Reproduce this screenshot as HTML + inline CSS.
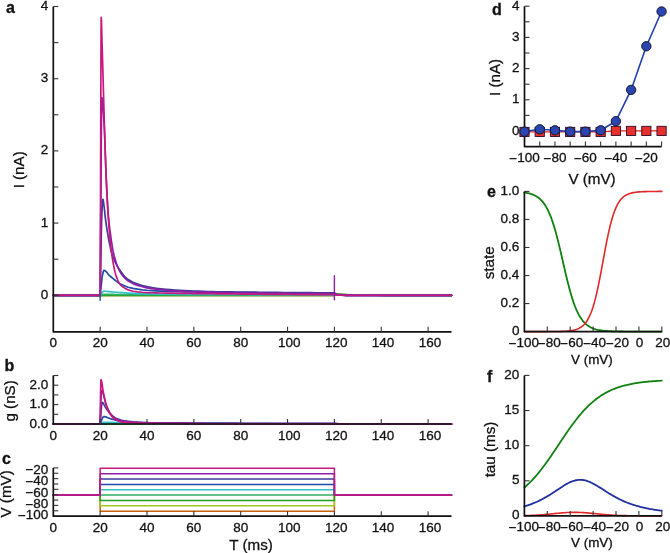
<!DOCTYPE html>
<html><head><meta charset="utf-8"><style>
html,body{margin:0;padding:0;background:#fff;}
svg{display:block;will-change:transform;}
text{font-family:"Liberation Sans",sans-serif;fill:#111;stroke:#111;stroke-width:0.3px;}
</style></head><body>
<svg width="670" height="553" viewBox="0 0 670 553">
<polyline points="53.30,295.30 100.15,295.30 100.15,295.30 100.27,295.30 100.38,295.30 100.50,295.30 100.62,295.30 100.74,295.30 100.85,295.30 100.97,295.30 101.09,295.30 101.20,295.30 101.32,295.30 101.44,295.30 101.56,295.30 101.67,295.30 101.79,295.30 101.91,295.30 102.02,295.30 102.14,295.30 102.26,295.30 102.38,295.30 102.49,295.30 102.61,295.30 102.73,295.30 102.84,295.30 102.96,295.30 103.08,295.30 103.20,295.30 103.31,295.30 103.43,295.30 103.55,295.30 103.66,295.30 103.78,295.30 103.90,295.30 104.02,295.30 104.13,295.30 104.25,295.30 104.37,295.30 104.48,295.30 104.60,295.30 104.72,295.30 104.83,295.30 105.30,295.30 105.77,295.30 106.24,295.30 106.71,295.30 107.18,295.30 107.65,295.30 108.11,295.30 108.58,295.30 109.05,295.30 109.52,295.30 109.99,295.30 110.46,295.30 110.93,295.30 111.39,295.30 111.86,295.30 112.33,295.30 112.80,295.30 113.27,295.30 113.74,295.30 114.20,295.30 114.67,295.30 115.14,295.30 115.61,295.30 116.08,295.30 116.55,295.30 117.02,295.30 117.48,295.30 117.95,295.30 118.42,295.30 118.89,295.30 119.36,295.30 119.83,295.30 120.30,295.30 120.76,295.30 121.23,295.30 121.70,295.30 122.17,295.30 122.64,295.30 123.11,295.30 123.57,295.30 124.04,295.30 124.51,295.30 124.98,295.30 125.45,295.30 125.92,295.30 126.39,295.30 126.85,295.30 127.32,295.30 127.79,295.30 128.26,295.30 132.94,295.30 137.63,295.30 142.31,295.30 147.00,295.30 151.69,295.30 156.37,295.30 161.06,295.30 165.74,295.30 170.42,295.30 175.11,295.30 179.79,295.30 184.48,295.30 189.16,295.30 193.85,295.30 198.53,295.30 203.22,295.30 207.90,295.30 212.59,295.30 217.27,295.30 221.96,295.30 226.64,295.30 231.33,295.30 236.01,295.30 240.70,295.30 245.38,295.30 250.07,295.30 254.75,295.30 259.44,295.30 264.12,295.30 268.81,295.30 273.50,295.30 278.18,295.30 282.86,295.30 287.55,295.30 292.23,295.30 296.92,295.30 301.60,295.30 306.29,295.30 310.97,295.30 315.66,295.30 320.34,295.30 325.03,295.30 329.71,295.30 334.40,295.30 334.40,295.30 336.74,294.21 339.08,294.34 341.43,294.51 343.77,294.65 346.11,294.77 348.45,294.87 350.80,294.94 353.14,295.01 355.48,295.06 357.82,295.10 360.17,295.14 362.51,295.17 364.85,295.19 367.19,295.21 369.54,295.23 371.88,295.24 374.22,295.25 376.56,295.26 378.91,295.27 381.25,295.27 383.59,295.28 385.94,295.28 388.28,295.29 390.62,295.29 392.96,295.29 395.31,295.29 397.65,295.29 399.99,295.29 402.33,295.30 404.67,295.30 407.02,295.30 409.36,295.30 411.70,295.30 414.04,295.30 416.39,295.30 418.73,295.30 421.07,295.30 423.41,295.30 425.76,295.30 428.10,295.30 430.44,295.30 432.78,295.30 435.13,295.30 437.47,295.30 439.81,295.30 442.15,295.30 444.50,295.30 446.84,295.30 449.18,295.30 451.52,295.30 451.52,295.30" fill="none" stroke="#c86010" stroke-width="1.7" stroke-linejoin="round" stroke-linecap="round" />
<polyline points="53.30,295.30 100.15,295.30 100.15,295.30 100.27,295.30 100.38,295.30 100.50,295.30 100.62,295.30 100.74,295.30 100.85,295.30 100.97,295.30 101.09,295.30 101.20,295.30 101.32,295.30 101.44,295.30 101.56,295.30 101.67,295.30 101.79,295.30 101.91,295.30 102.02,295.30 102.14,295.30 102.26,295.30 102.38,295.30 102.49,295.30 102.61,295.30 102.73,295.30 102.84,295.30 102.96,295.30 103.08,295.30 103.20,295.30 103.31,295.30 103.43,295.30 103.55,295.30 103.66,295.30 103.78,295.30 103.90,295.30 104.02,295.30 104.13,295.30 104.25,295.30 104.37,295.30 104.48,295.30 104.60,295.30 104.72,295.30 104.83,295.30 105.30,295.30 105.77,295.30 106.24,295.30 106.71,295.30 107.18,295.30 107.65,295.30 108.11,295.30 108.58,295.30 109.05,295.30 109.52,295.30 109.99,295.30 110.46,295.30 110.93,295.30 111.39,295.30 111.86,295.30 112.33,295.30 112.80,295.30 113.27,295.30 113.74,295.30 114.20,295.30 114.67,295.30 115.14,295.30 115.61,295.30 116.08,295.30 116.55,295.30 117.02,295.30 117.48,295.30 117.95,295.30 118.42,295.30 118.89,295.30 119.36,295.30 119.83,295.30 120.30,295.30 120.76,295.30 121.23,295.30 121.70,295.30 122.17,295.30 122.64,295.30 123.11,295.30 123.57,295.30 124.04,295.30 124.51,295.30 124.98,295.30 125.45,295.30 125.92,295.30 126.39,295.30 126.85,295.30 127.32,295.30 127.79,295.30 128.26,295.30 132.94,295.30 137.63,295.30 142.31,295.30 147.00,295.30 151.69,295.30 156.37,295.30 161.06,295.30 165.74,295.30 170.42,295.30 175.11,295.30 179.79,295.30 184.48,295.30 189.16,295.30 193.85,295.30 198.53,295.30 203.22,295.30 207.90,295.30 212.59,295.30 217.27,295.30 221.96,295.30 226.64,295.30 231.33,295.30 236.01,295.30 240.70,295.30 245.38,295.30 250.07,295.30 254.75,295.30 259.44,295.30 264.12,295.30 268.81,295.30 273.50,295.30 278.18,295.30 282.86,295.30 287.55,295.30 292.23,295.30 296.92,295.30 301.60,295.30 306.29,295.30 310.97,295.30 315.66,295.30 320.34,295.30 325.03,295.30 329.71,295.30 334.40,295.30 334.40,295.30 336.74,293.94 339.08,294.10 341.43,294.31 343.77,294.49 346.11,294.64 348.45,294.76 350.80,294.85 353.14,294.94 355.48,295.00 357.82,295.06 360.17,295.10 362.51,295.14 364.85,295.17 367.19,295.19 369.54,295.21 371.88,295.23 374.22,295.24 376.56,295.25 378.91,295.26 381.25,295.27 383.59,295.27 385.94,295.28 388.28,295.28 390.62,295.29 392.96,295.29 395.31,295.29 397.65,295.29 399.99,295.29 402.33,295.29 404.67,295.30 407.02,295.30 409.36,295.30 411.70,295.30 414.04,295.30 416.39,295.30 418.73,295.30 421.07,295.30 423.41,295.30 425.76,295.30 428.10,295.30 430.44,295.30 432.78,295.30 435.13,295.30 437.47,295.30 439.81,295.30 442.15,295.30 444.50,295.30 446.84,295.30 449.18,295.30 451.52,295.30 451.52,295.30" fill="none" stroke="#a0c820" stroke-width="1.7" stroke-linejoin="round" stroke-linecap="round" />
<polyline points="53.30,295.30 100.15,295.30 100.15,295.30 100.27,295.30 100.38,295.30 100.50,295.30 100.62,295.30 100.74,295.30 100.85,295.30 100.97,295.30 101.09,295.30 101.20,295.30 101.32,295.30 101.44,295.30 101.56,295.30 101.67,295.30 101.79,295.30 101.91,295.30 102.02,295.30 102.14,295.30 102.26,295.30 102.38,295.30 102.49,295.30 102.61,295.30 102.73,295.30 102.84,295.30 102.96,295.30 103.08,295.30 103.20,295.30 103.31,295.30 103.43,295.30 103.55,295.30 103.66,295.30 103.78,295.30 103.90,295.30 104.02,295.30 104.13,295.30 104.25,295.30 104.37,295.30 104.48,295.30 104.60,295.30 104.72,295.30 104.83,295.30 105.30,295.30 105.77,295.30 106.24,295.30 106.71,295.30 107.18,295.30 107.65,295.30 108.11,295.30 108.58,295.30 109.05,295.30 109.52,295.30 109.99,295.30 110.46,295.30 110.93,295.30 111.39,295.30 111.86,295.30 112.33,295.30 112.80,295.30 113.27,295.30 113.74,295.30 114.20,295.30 114.67,295.30 115.14,295.30 115.61,295.30 116.08,295.30 116.55,295.30 117.02,295.30 117.48,295.30 117.95,295.30 118.42,295.30 118.89,295.30 119.36,295.30 119.83,295.30 120.30,295.30 120.76,295.30 121.23,295.30 121.70,295.30 122.17,295.30 122.64,295.30 123.11,295.30 123.57,295.30 124.04,295.30 124.51,295.30 124.98,295.30 125.45,295.30 125.92,295.30 126.39,295.30 126.85,295.30 127.32,295.30 127.79,295.30 128.26,295.30 132.94,295.30 137.63,295.30 142.31,295.30 147.00,295.30 151.69,295.30 156.37,295.30 161.06,295.30 165.74,295.30 170.42,295.30 175.11,295.30 179.79,295.30 184.48,295.30 189.16,295.30 193.85,295.30 198.53,295.30 203.22,295.30 207.90,295.30 212.59,295.30 217.27,295.30 221.96,295.30 226.64,295.30 231.33,295.30 236.01,295.30 240.70,295.30 245.38,295.30 250.07,295.30 254.75,295.30 259.44,295.30 264.12,295.30 268.81,295.30 273.50,295.30 278.18,295.30 282.86,295.30 287.55,295.30 292.23,295.30 296.92,295.30 301.60,295.30 306.29,295.30 310.97,295.30 315.66,295.30 320.34,295.30 325.03,295.30 329.71,295.30 334.40,295.30 334.40,295.30 336.74,294.11 339.08,294.24 341.43,294.43 343.77,294.59 346.11,294.72 348.45,294.82 350.80,294.91 353.14,294.98 355.48,295.04 357.82,295.09 360.17,295.12 362.51,295.16 364.85,295.18 367.19,295.20 369.54,295.22 371.88,295.24 374.22,295.25 376.56,295.26 378.91,295.26 381.25,295.27 383.59,295.28 385.94,295.28 388.28,295.28 390.62,295.29 392.96,295.29 395.31,295.29 397.65,295.29 399.99,295.29 402.33,295.30 404.67,295.30 407.02,295.30 409.36,295.30 411.70,295.30 414.04,295.30 416.39,295.30 418.73,295.30 421.07,295.30 423.41,295.30 425.76,295.30 428.10,295.30 430.44,295.30 432.78,295.30 435.13,295.30 437.47,295.30 439.81,295.30 442.15,295.30 444.50,295.30 446.84,295.30 449.18,295.30 451.52,295.30 451.52,295.30" fill="none" stroke="#20a020" stroke-width="1.7" stroke-linejoin="round" stroke-linecap="round" />
<polyline points="53.30,295.30 100.15,295.30 100.15,295.30 100.27,295.25 100.38,295.20 100.50,295.15 100.62,295.09 100.74,295.04 100.85,294.98 100.97,294.92 101.09,294.86 101.20,294.81 101.32,294.75 101.44,294.70 101.56,294.65 101.67,294.61 101.79,294.56 101.91,294.53 102.02,294.49 102.14,294.47 102.26,294.45 102.38,294.44 102.49,294.43 102.61,294.43 102.73,294.43 102.84,294.43 102.96,294.43 103.08,294.43 103.20,294.43 103.31,294.43 103.43,294.43 103.55,294.43 103.66,294.43 103.78,294.43 103.90,294.43 104.02,294.43 104.13,294.43 104.25,294.43 104.37,294.43 104.48,294.44 104.60,294.44 104.72,294.44 104.83,294.44 105.30,294.44 105.77,294.44 106.24,294.44 106.71,294.44 107.18,294.44 107.65,294.44 108.11,294.44 108.58,294.45 109.05,294.45 109.52,294.45 109.99,294.45 110.46,294.46 110.93,294.46 111.39,294.46 111.86,294.46 112.33,294.47 112.80,294.47 113.27,294.47 113.74,294.47 114.20,294.48 114.67,294.48 115.14,294.48 115.61,294.49 116.08,294.49 116.55,294.49 117.02,294.50 117.48,294.50 117.95,294.51 118.42,294.51 118.89,294.51 119.36,294.52 119.83,294.52 120.30,294.53 120.76,294.53 121.23,294.53 121.70,294.54 122.17,294.54 122.64,294.55 123.11,294.55 123.57,294.55 124.04,294.56 124.51,294.56 124.98,294.57 125.45,294.57 125.92,294.58 126.39,294.58 126.85,294.58 127.32,294.59 127.79,294.59 128.26,294.60 132.94,294.64 137.63,294.68 142.31,294.70 147.00,294.72 151.69,294.73 156.37,294.74 161.06,294.75 165.74,294.76 170.42,294.77 175.11,294.78 179.79,294.79 184.48,294.80 189.16,294.81 193.85,294.82 198.53,294.82 203.22,294.83 207.90,294.84 212.59,294.85 217.27,294.85 221.96,294.86 226.64,294.87 231.33,294.87 236.01,294.88 240.70,294.88 245.38,294.89 250.07,294.89 254.75,294.90 259.44,294.90 264.12,294.91 268.81,294.91 273.50,294.92 278.18,294.92 282.86,294.92 287.55,294.93 292.23,294.93 296.92,294.93 301.60,294.93 306.29,294.93 310.97,294.94 315.66,294.94 320.34,294.94 325.03,294.94 329.71,294.94 334.40,294.94 334.40,294.94 336.74,294.52 339.08,294.67 341.43,294.81 343.77,294.90 346.11,294.98 348.45,295.04 350.80,295.09 353.14,295.12 355.48,295.16 357.82,295.18 360.17,295.20 362.51,295.22 364.85,295.24 367.19,295.25 369.54,295.26 371.88,295.26 374.22,295.27 376.56,295.28 378.91,295.28 381.25,295.28 383.59,295.29 385.94,295.29 388.28,295.29 390.62,295.29 392.96,295.29 395.31,295.30 397.65,295.30 399.99,295.30 402.33,295.30 404.67,295.30 407.02,295.30 409.36,295.30 411.70,295.30 414.04,295.30 416.39,295.30 418.73,295.30 421.07,295.30 423.41,295.30 425.76,295.30 428.10,295.30 430.44,295.30 432.78,295.30 435.13,295.30 437.47,295.30 439.81,295.30 442.15,295.30 444.50,295.30 446.84,295.30 449.18,295.30 451.52,295.30 451.52,295.30" fill="none" stroke="#30b060" stroke-width="1.7" stroke-linejoin="round" stroke-linecap="round" />
<polyline points="53.30,295.30 100.15,295.30 100.15,295.30 100.27,295.07 100.38,294.84 100.50,294.62 100.62,294.40 100.74,294.19 100.85,293.98 100.97,293.78 101.09,293.59 101.20,293.41 101.32,293.23 101.44,293.07 101.56,292.91 101.67,292.77 101.79,292.64 101.91,292.52 102.02,292.41 102.14,292.31 102.26,292.21 102.38,292.11 102.49,292.02 102.61,291.92 102.73,291.83 102.84,291.74 102.96,291.65 103.08,291.57 103.20,291.50 103.31,291.43 103.43,291.37 103.55,291.32 103.66,291.27 103.78,291.23 103.90,291.21 104.02,291.19 104.13,291.18 104.25,291.19 104.37,291.19 104.48,291.19 104.60,291.19 104.72,291.20 104.83,291.20 105.30,291.23 105.77,291.27 106.24,291.31 106.71,291.37 107.18,291.42 107.65,291.48 108.11,291.54 108.58,291.59 109.05,291.65 109.52,291.69 109.99,291.73 110.46,291.77 110.93,291.81 111.39,291.85 111.86,291.89 112.33,291.93 112.80,291.97 113.27,292.01 113.74,292.05 114.20,292.09 114.67,292.13 115.14,292.17 115.61,292.20 116.08,292.24 116.55,292.28 117.02,292.32 117.48,292.35 117.95,292.39 118.42,292.42 118.89,292.46 119.36,292.49 119.83,292.53 120.30,292.56 120.76,292.59 121.23,292.62 121.70,292.66 122.17,292.69 122.64,292.72 123.11,292.74 123.57,292.77 124.04,292.80 124.51,292.83 124.98,292.86 125.45,292.88 125.92,292.91 126.39,292.94 126.85,292.97 127.32,292.99 127.79,293.02 128.26,293.05 132.94,293.31 137.63,293.55 142.31,293.73 147.00,293.86 151.69,293.94 156.37,294.00 161.06,294.06 165.74,294.11 170.42,294.15 175.11,294.18 179.79,294.22 184.48,294.25 189.16,294.28 193.85,294.31 198.53,294.33 203.22,294.36 207.90,294.38 212.59,294.40 217.27,294.42 221.96,294.44 226.64,294.46 231.33,294.47 236.01,294.49 240.70,294.51 245.38,294.52 250.07,294.54 254.75,294.55 259.44,294.56 264.12,294.58 268.81,294.59 273.50,294.60 278.18,294.62 282.86,294.63 287.55,294.64 292.23,294.65 296.92,294.66 301.60,294.67 306.29,294.68 310.97,294.69 315.66,294.70 320.34,294.71 325.03,294.71 329.71,294.72 334.40,294.72 334.40,294.72 336.74,295.09 339.08,295.22 341.43,295.27 343.77,295.29 346.11,295.30 348.45,295.30 350.80,295.30 353.14,295.30 355.48,295.30 357.82,295.30 360.17,295.30 362.51,295.30 364.85,295.30 367.19,295.30 369.54,295.30 371.88,295.30 374.22,295.30 376.56,295.30 378.91,295.30 381.25,295.30 383.59,295.30 385.94,295.30 388.28,295.30 390.62,295.30 392.96,295.30 395.31,295.30 397.65,295.30 399.99,295.30 402.33,295.30 404.67,295.30 407.02,295.30 409.36,295.30 411.70,295.30 414.04,295.30 416.39,295.30 418.73,295.30 421.07,295.30 423.41,295.30 425.76,295.30 428.10,295.30 430.44,295.30 432.78,295.30 435.13,295.30 437.47,295.30 439.81,295.30 442.15,295.30 444.50,295.30 446.84,295.30 449.18,295.30 451.52,295.30 451.52,295.30" fill="none" stroke="#30c0c8" stroke-width="1.7" stroke-linejoin="round" stroke-linecap="round" />
<polyline points="53.30,295.30 100.15,295.30 100.15,295.30 100.27,294.15 100.38,293.02 100.50,291.90 100.62,290.79 100.74,289.70 100.85,288.62 100.97,287.56 101.09,286.51 101.20,285.48 101.32,284.47 101.44,283.44 101.56,282.38 101.67,281.30 101.79,280.23 101.91,279.18 102.02,278.19 102.14,277.26 102.26,276.42 102.38,275.69 102.49,275.08 102.61,274.55 102.73,274.02 102.84,273.51 102.96,273.01 103.08,272.53 103.20,272.08 103.31,271.67 103.43,271.31 103.55,271.00 103.66,270.74 103.78,270.55 103.90,270.43 104.02,270.39 104.13,270.40 104.25,270.41 104.37,270.44 104.48,270.48 104.60,270.53 104.72,270.58 104.83,270.64 105.30,270.94 105.77,271.30 106.24,271.67 106.71,272.20 107.18,272.83 107.65,273.49 108.11,274.10 108.58,274.60 109.05,275.07 109.52,275.52 109.99,275.94 110.46,276.35 110.93,276.75 111.39,277.14 111.86,277.53 112.33,277.92 112.80,278.30 113.27,278.69 113.74,279.09 114.20,279.50 114.67,279.90 115.14,280.30 115.61,280.69 116.08,281.08 116.55,281.45 117.02,281.81 117.48,282.14 117.95,282.46 118.42,282.76 118.89,283.06 119.36,283.35 119.83,283.62 120.30,283.89 120.76,284.14 121.23,284.38 121.70,284.61 122.17,284.83 122.64,285.04 123.11,285.25 123.57,285.45 124.04,285.65 124.51,285.85 124.98,286.05 125.45,286.24 125.92,286.42 126.39,286.60 126.85,286.78 127.32,286.94 127.79,287.11 128.26,287.26 132.94,288.41 137.63,289.21 142.31,289.82 147.00,290.25 151.69,290.56 156.37,290.83 161.06,291.06 165.74,291.26 170.42,291.43 175.11,291.57 179.79,291.69 184.48,291.79 189.16,291.89 193.85,291.97 198.53,292.05 203.22,292.12 207.90,292.19 212.59,292.25 217.27,292.31 221.96,292.37 226.64,292.42 231.33,292.46 236.01,292.51 240.70,292.56 245.38,292.60 250.07,292.65 254.75,292.69 259.44,292.73 264.12,292.77 268.81,292.81 273.50,292.85 278.18,292.89 282.86,292.93 287.55,292.96 292.23,293.00 296.92,293.03 301.60,293.06 306.29,293.09 310.97,293.11 315.66,293.14 320.34,293.16 325.03,293.18 329.71,293.19 334.40,293.21 334.40,293.21 336.74,294.53 339.08,295.02 341.43,295.20 343.77,295.26 346.11,295.29 348.45,295.29 350.80,295.30 353.14,295.30 355.48,295.30 357.82,295.30 360.17,295.30 362.51,295.30 364.85,295.30 367.19,295.30 369.54,295.30 371.88,295.30 374.22,295.30 376.56,295.30 378.91,295.30 381.25,295.30 383.59,295.30 385.94,295.30 388.28,295.30 390.62,295.30 392.96,295.30 395.31,295.30 397.65,295.30 399.99,295.30 402.33,295.30 404.67,295.30 407.02,295.30 409.36,295.30 411.70,295.30 414.04,295.30 416.39,295.30 418.73,295.30 421.07,295.30 423.41,295.30 425.76,295.30 428.10,295.30 430.44,295.30 432.78,295.30 435.13,295.30 437.47,295.30 439.81,295.30 442.15,295.30 444.50,295.30 446.84,295.30 449.18,295.30 451.52,295.30 451.52,295.30" fill="none" stroke="#1f4aa8" stroke-width="1.7" stroke-linejoin="round" stroke-linecap="round" />
<polyline points="53.30,295.30 100.15,295.30 100.15,295.30 100.27,289.06 100.38,282.90 100.50,276.83 100.62,270.85 100.74,264.97 100.85,259.20 100.97,253.27 101.09,247.04 101.20,240.75 101.32,234.60 101.44,228.83 101.56,223.63 101.67,219.24 101.79,215.88 101.91,213.11 102.02,210.42 102.14,207.87 102.26,205.52 102.38,203.45 102.49,201.73 102.61,200.41 102.73,199.57 102.84,199.27 102.96,199.39 103.08,199.73 103.20,200.25 103.31,200.91 103.43,201.68 103.55,202.51 103.66,203.38 103.78,204.23 103.90,205.05 104.02,205.88 104.13,206.80 104.25,207.79 104.37,208.83 104.48,209.93 104.60,211.05 104.72,212.19 104.83,213.33 105.30,217.64 105.77,221.22 106.24,224.57 106.71,227.75 107.18,230.76 107.65,233.59 108.11,236.27 108.58,238.79 109.05,241.23 109.52,243.59 109.99,245.84 110.46,247.97 110.93,249.96 111.39,251.79 111.86,253.42 112.33,254.89 112.80,256.24 113.27,257.48 113.74,258.64 114.20,259.75 114.67,260.83 115.14,261.90 115.61,262.92 116.08,263.90 116.55,264.83 117.02,265.70 117.48,266.51 117.95,267.28 118.42,268.02 118.89,268.73 119.36,269.42 119.83,270.09 120.30,270.75 120.76,271.41 121.23,272.07 121.70,272.72 122.17,273.37 122.64,274.00 123.11,274.62 123.57,275.21 124.04,275.77 124.51,276.30 124.98,276.80 125.45,277.25 125.92,277.67 126.39,278.09 126.85,278.48 127.32,278.87 127.79,279.24 128.26,279.59 132.94,282.21 137.63,284.05 142.31,285.55 147.00,286.70 151.69,287.55 156.37,288.23 161.06,288.81 165.74,289.30 170.42,289.71 175.11,290.04 179.79,290.32 184.48,290.58 189.16,290.81 193.85,291.03 198.53,291.21 203.22,291.38 207.90,291.52 212.59,291.64 217.27,291.74 221.96,291.82 226.64,291.88 231.33,291.94 236.01,292.00 240.70,292.05 245.38,292.10 250.07,292.15 254.75,292.20 259.44,292.25 264.12,292.30 268.81,292.35 273.50,292.40 278.18,292.44 282.86,292.49 287.55,292.53 292.23,292.57 296.92,292.61 301.60,292.65 306.29,292.68 310.97,292.72 315.66,292.75 320.34,292.77 325.03,292.80 329.71,292.82 334.40,292.85 334.40,292.85 336.74,294.40 339.08,294.97 341.43,295.18 343.77,295.26 346.11,295.28 348.45,295.29 350.80,295.30 353.14,295.30 355.48,295.30 357.82,295.30 360.17,295.30 362.51,295.30 364.85,295.30 367.19,295.30 369.54,295.30 371.88,295.30 374.22,295.30 376.56,295.30 378.91,295.30 381.25,295.30 383.59,295.30 385.94,295.30 388.28,295.30 390.62,295.30 392.96,295.30 395.31,295.30 397.65,295.30 399.99,295.30 402.33,295.30 404.67,295.30 407.02,295.30 409.36,295.30 411.70,295.30 414.04,295.30 416.39,295.30 418.73,295.30 421.07,295.30 423.41,295.30 425.76,295.30 428.10,295.30 430.44,295.30 432.78,295.30 435.13,295.30 437.47,295.30 439.81,295.30 442.15,295.30 444.50,295.30 446.84,295.30 449.18,295.30 451.52,295.30 451.52,295.30" fill="none" stroke="#3c3c9c" stroke-width="1.7" stroke-linejoin="round" stroke-linecap="round" />
<polyline points="53.30,295.30 100.15,295.30 100.15,295.30 100.27,278.92 100.38,262.79 100.50,246.96 100.62,231.44 100.74,216.26 100.85,201.44 100.97,185.48 101.09,167.74 101.20,149.55 101.32,132.22 101.44,117.09 101.56,105.46 101.67,98.68 101.79,97.50 101.91,97.77 102.02,98.30 102.14,99.07 102.26,100.02 102.38,101.13 102.49,102.34 102.61,103.64 102.73,104.97 102.84,106.29 102.96,107.58 103.08,108.89 103.20,110.30 103.31,111.81 103.43,113.42 103.55,115.12 103.66,116.91 103.78,118.78 103.90,120.73 104.02,122.76 104.13,124.85 104.25,127.02 104.37,129.24 104.48,131.63 104.60,134.28 104.72,137.15 104.83,140.19 105.30,153.49 105.77,166.81 106.24,178.00 106.71,188.07 107.18,197.56 107.65,206.01 108.11,212.98 108.58,218.39 109.05,223.03 109.52,227.11 109.99,230.78 110.46,234.20 110.93,237.54 111.39,240.83 111.86,243.98 112.33,246.92 112.80,249.60 113.27,251.98 113.74,254.05 114.20,255.89 114.67,257.58 115.14,259.20 115.61,260.78 116.08,262.28 116.55,263.69 117.02,264.98 117.48,266.18 117.95,267.34 118.42,268.45 118.89,269.50 119.36,270.48 119.83,271.38 120.30,272.20 120.76,272.95 121.23,273.66 121.70,274.34 122.17,274.99 122.64,275.61 123.11,276.20 123.57,276.76 124.04,277.28 124.51,277.78 124.98,278.25 125.45,278.69 125.92,279.12 126.39,279.53 126.85,279.93 127.32,280.32 127.79,280.69 128.26,281.05 132.94,283.63 137.63,285.39 142.31,286.79 147.00,287.85 151.69,288.61 156.37,289.21 161.06,289.72 165.74,290.16 170.42,290.53 175.11,290.84 179.79,291.11 184.48,291.35 189.16,291.56 193.85,291.75 198.53,291.93 203.22,292.08 207.90,292.22 212.59,292.35 217.27,292.47 221.96,292.58 226.64,292.68 231.33,292.77 236.01,292.85 240.70,292.92 245.38,292.98 250.07,293.04 254.75,293.10 259.44,293.15 264.12,293.21 268.81,293.27 273.50,293.32 278.18,293.37 282.86,293.42 287.55,293.46 292.23,293.51 296.92,293.55 301.60,293.58 306.29,293.62 310.97,293.64 315.66,293.67 320.34,293.69 325.03,293.70 329.71,293.71 334.40,293.71 334.40,293.71 336.74,294.72 339.08,295.09 341.43,295.22 343.77,295.27 346.11,295.29 348.45,295.30 350.80,295.30 353.14,295.30 355.48,295.30 357.82,295.30 360.17,295.30 362.51,295.30 364.85,295.30 367.19,295.30 369.54,295.30 371.88,295.30 374.22,295.30 376.56,295.30 378.91,295.30 381.25,295.30 383.59,295.30 385.94,295.30 388.28,295.30 390.62,295.30 392.96,295.30 395.31,295.30 397.65,295.30 399.99,295.30 402.33,295.30 404.67,295.30 407.02,295.30 409.36,295.30 411.70,295.30 414.04,295.30 416.39,295.30 418.73,295.30 421.07,295.30 423.41,295.30 425.76,295.30 428.10,295.30 430.44,295.30 432.78,295.30 435.13,295.30 437.47,295.30 439.81,295.30 442.15,295.30 444.50,295.30 446.84,295.30 449.18,295.30 451.52,295.30 451.52,295.30" fill="none" stroke="#8c1ea8" stroke-width="1.7" stroke-linejoin="round" stroke-linecap="round" />
<polyline points="53.30,295.30 100.15,295.30 100.15,295.30 100.27,269.48 100.38,240.44 100.50,208.66 100.62,170.82 100.74,129.32 100.85,93.14 100.97,59.92 101.09,30.20 101.20,17.33 101.32,18.27 101.44,20.80 101.56,24.51 101.67,28.96 101.79,33.74 101.91,38.43 102.02,42.60 102.14,46.40 102.26,50.25 102.38,54.16 102.49,58.10 102.61,62.08 102.73,66.09 102.84,70.12 102.96,74.18 103.08,78.24 103.20,82.31 103.31,86.43 103.43,90.64 103.55,94.91 103.66,99.19 103.78,103.47 103.90,107.70 104.02,111.87 104.13,115.93 104.25,119.85 104.37,123.71 104.48,127.56 104.60,131.42 104.72,135.25 104.83,139.05 105.30,153.80 105.77,167.28 106.24,178.89 106.71,189.17 107.18,198.51 107.65,206.92 108.11,214.44 108.58,221.28 109.05,227.64 109.52,233.46 109.99,238.70 110.46,243.32 110.93,247.44 111.39,251.24 111.86,254.73 112.33,257.93 112.80,260.86 113.27,263.53 113.74,266.02 114.20,268.38 114.67,270.58 115.14,272.57 115.61,274.32 116.08,275.81 116.55,277.11 117.02,278.33 117.48,279.48 117.95,280.55 118.42,281.54 118.89,282.43 119.36,283.24 119.83,283.95 120.30,284.56 120.76,285.08 121.23,285.54 121.70,285.97 122.17,286.36 122.64,286.72 123.11,287.05 123.57,287.36 124.04,287.64 124.51,287.92 124.98,288.18 125.45,288.44 125.92,288.70 126.39,288.95 126.85,289.21 127.32,289.46 127.79,289.70 128.26,289.92 132.94,291.23 137.63,291.84 142.31,292.26 147.00,292.54 151.69,292.73 156.37,292.88 161.06,293.00 165.74,293.11 170.42,293.19 175.11,293.27 179.79,293.35 184.48,293.42 189.16,293.49 193.85,293.55 198.53,293.60 203.22,293.66 207.90,293.71 212.59,293.76 217.27,293.81 221.96,293.86 226.64,293.92 231.33,293.97 236.01,294.02 240.70,294.07 245.38,294.12 250.07,294.17 254.75,294.21 259.44,294.25 264.12,294.29 268.81,294.33 273.50,294.36 278.18,294.40 282.86,294.43 287.55,294.46 292.23,294.50 296.92,294.53 301.60,294.56 306.29,294.58 310.97,294.61 315.66,294.64 320.34,294.66 325.03,294.68 329.71,294.70 334.40,294.72 334.40,294.72 336.74,295.09 339.08,295.22 341.43,295.27 343.77,295.29 346.11,295.30 348.45,295.30 350.80,295.30 353.14,295.30 355.48,295.30 357.82,295.30 360.17,295.30 362.51,295.30 364.85,295.30 367.19,295.30 369.54,295.30 371.88,295.30 374.22,295.30 376.56,295.30 378.91,295.30 381.25,295.30 383.59,295.30 385.94,295.30 388.28,295.30 390.62,295.30 392.96,295.30 395.31,295.30 397.65,295.30 399.99,295.30 402.33,295.30 404.67,295.30 407.02,295.30 409.36,295.30 411.70,295.30 414.04,295.30 416.39,295.30 418.73,295.30 421.07,295.30 423.41,295.30 425.76,295.30 428.10,295.30 430.44,295.30 432.78,295.30 435.13,295.30 437.47,295.30 439.81,295.30 442.15,295.30 444.50,295.30 446.84,295.30 449.18,295.30 451.52,295.30 451.52,295.30" fill="none" stroke="#c8187f" stroke-width="1.7" stroke-linejoin="round" stroke-linecap="round" />
<polyline points="100.15,295.30 100.15,300.35" fill="none" stroke="#1f4aa8" stroke-width="1.4" stroke-linejoin="round" stroke-linecap="round" />
<polyline points="334.40,299.63 334.40,275.81" fill="none" stroke="#8c1ea8" stroke-width="1.4" stroke-linejoin="round" stroke-linecap="round" />
<polyline points="53.30,424.00 100.15,424.00 100.15,424.00 100.27,424.00 100.38,424.00 100.50,424.00 100.62,424.00 100.74,424.00 100.85,424.00 100.97,424.00 101.09,424.00 101.20,424.00 101.32,424.00 101.44,424.00 101.56,424.00 101.67,424.00 101.79,424.00 101.91,424.00 102.02,424.00 102.14,424.00 102.26,424.00 102.38,424.00 102.49,424.00 102.61,424.00 102.73,424.00 102.84,424.00 102.96,424.00 103.08,424.00 103.20,424.00 103.31,424.00 103.43,424.00 103.55,424.00 103.66,424.00 103.78,424.00 103.90,424.00 104.02,424.00 104.13,424.00 104.25,424.00 104.37,424.00 104.48,424.00 104.60,424.00 104.72,424.00 104.83,424.00 105.30,424.00 105.77,424.00 106.24,424.00 106.71,424.00 107.18,424.00 107.65,424.00 108.11,424.00 108.58,424.00 109.05,424.00 109.52,424.00 109.99,424.00 110.46,424.00 110.93,424.00 111.39,424.00 111.86,424.00 112.33,424.00 112.80,424.00 113.27,424.00 113.74,424.00 114.20,424.00 114.67,424.00 115.14,424.00 115.61,424.00 116.08,424.00 116.55,424.00 117.02,424.00 117.48,424.00 117.95,424.00 118.42,424.00 118.89,424.00 119.36,424.00 119.83,424.00 120.30,424.00 120.76,424.00 121.23,424.00 121.70,424.00 122.17,424.00 122.64,424.00 123.11,424.00 123.57,424.00 124.04,424.00 124.51,424.00 124.98,424.00 125.45,424.00 125.92,424.00 126.39,424.00 126.85,424.00 127.32,424.00 127.79,424.00 128.26,424.00 132.94,424.00 137.63,424.00 142.31,424.00 147.00,424.00 151.69,424.00 156.37,424.00 161.06,424.00 165.74,424.00 170.42,424.00 175.11,424.00 179.79,424.00 184.48,424.00 189.16,424.00 193.85,424.00 198.53,424.00 203.22,424.00 207.90,424.00 212.59,424.00 217.27,424.00 221.96,424.00 226.64,424.00 231.33,424.00 236.01,424.00 240.70,424.00 245.38,424.00 250.07,424.00 254.75,424.00 259.44,424.00 264.12,424.00 268.81,424.00 273.50,424.00 278.18,424.00 282.86,424.00 287.55,424.00 292.23,424.00 296.92,424.00 301.60,424.00 306.29,424.00 310.97,424.00 315.66,424.00 320.34,424.00 325.03,424.00 329.71,424.00 334.40,424.00 334.40,424.00 339.08,424.00 343.77,424.00 348.45,424.00 353.14,424.00 357.82,424.00 362.51,424.00 367.19,424.00 371.88,424.00 376.56,424.00 381.25,424.00 385.94,424.00 390.62,424.00 395.31,424.00 399.99,424.00 404.67,424.00 409.36,424.00 414.04,424.00 418.73,424.00 423.41,424.00 428.10,424.00 432.78,424.00 437.47,424.00 442.15,424.00 446.84,424.00 451.52,424.00 451.52,424.00" fill="none" stroke="#c86010" stroke-width="1.7" stroke-linejoin="round" stroke-linecap="round" />
<polyline points="53.30,424.00 100.15,424.00 100.15,424.00 100.27,424.00 100.38,424.00 100.50,424.00 100.62,424.00 100.74,424.00 100.85,424.00 100.97,424.00 101.09,424.00 101.20,424.00 101.32,424.00 101.44,424.00 101.56,424.00 101.67,424.00 101.79,424.00 101.91,424.00 102.02,424.00 102.14,424.00 102.26,424.00 102.38,424.00 102.49,424.00 102.61,424.00 102.73,424.00 102.84,424.00 102.96,424.00 103.08,424.00 103.20,424.00 103.31,424.00 103.43,424.00 103.55,424.00 103.66,424.00 103.78,424.00 103.90,424.00 104.02,424.00 104.13,424.00 104.25,424.00 104.37,424.00 104.48,424.00 104.60,424.00 104.72,424.00 104.83,424.00 105.30,424.00 105.77,424.00 106.24,424.00 106.71,424.00 107.18,424.00 107.65,424.00 108.11,424.00 108.58,424.00 109.05,424.00 109.52,424.00 109.99,424.00 110.46,424.00 110.93,424.00 111.39,424.00 111.86,424.00 112.33,424.00 112.80,424.00 113.27,424.00 113.74,424.00 114.20,424.00 114.67,424.00 115.14,424.00 115.61,424.00 116.08,424.00 116.55,424.00 117.02,424.00 117.48,424.00 117.95,424.00 118.42,424.00 118.89,424.00 119.36,424.00 119.83,424.00 120.30,424.00 120.76,424.00 121.23,424.00 121.70,424.00 122.17,424.00 122.64,424.00 123.11,424.00 123.57,424.00 124.04,424.00 124.51,424.00 124.98,424.00 125.45,424.00 125.92,424.00 126.39,424.00 126.85,424.00 127.32,424.00 127.79,424.00 128.26,424.00 132.94,424.00 137.63,424.00 142.31,424.00 147.00,424.00 151.69,424.00 156.37,424.00 161.06,424.00 165.74,424.00 170.42,424.00 175.11,424.00 179.79,424.00 184.48,424.00 189.16,424.00 193.85,424.00 198.53,424.00 203.22,424.00 207.90,424.00 212.59,424.00 217.27,424.00 221.96,424.00 226.64,424.00 231.33,424.00 236.01,424.00 240.70,424.00 245.38,424.00 250.07,424.00 254.75,424.00 259.44,424.00 264.12,424.00 268.81,424.00 273.50,424.00 278.18,424.00 282.86,424.00 287.55,424.00 292.23,424.00 296.92,424.00 301.60,424.00 306.29,424.00 310.97,424.00 315.66,424.00 320.34,424.00 325.03,424.00 329.71,424.00 334.40,424.00 334.40,424.00 339.08,424.00 343.77,424.00 348.45,424.00 353.14,424.00 357.82,424.00 362.51,424.00 367.19,424.00 371.88,424.00 376.56,424.00 381.25,424.00 385.94,424.00 390.62,424.00 395.31,424.00 399.99,424.00 404.67,424.00 409.36,424.00 414.04,424.00 418.73,424.00 423.41,424.00 428.10,424.00 432.78,424.00 437.47,424.00 442.15,424.00 446.84,424.00 451.52,424.00 451.52,424.00" fill="none" stroke="#a0c820" stroke-width="1.7" stroke-linejoin="round" stroke-linecap="round" />
<polyline points="53.30,424.00 100.15,424.00 100.15,424.00 100.27,424.00 100.38,424.00 100.50,424.00 100.62,424.00 100.74,424.00 100.85,424.00 100.97,424.00 101.09,424.00 101.20,424.00 101.32,424.00 101.44,424.00 101.56,424.00 101.67,424.00 101.79,424.00 101.91,424.00 102.02,424.00 102.14,424.00 102.26,424.00 102.38,424.00 102.49,424.00 102.61,424.00 102.73,424.00 102.84,424.00 102.96,424.00 103.08,424.00 103.20,424.00 103.31,424.00 103.43,424.00 103.55,424.00 103.66,424.00 103.78,424.00 103.90,424.00 104.02,424.00 104.13,424.00 104.25,424.00 104.37,424.00 104.48,424.00 104.60,424.00 104.72,424.00 104.83,424.00 105.30,424.00 105.77,424.00 106.24,424.00 106.71,424.00 107.18,424.00 107.65,424.00 108.11,424.00 108.58,424.00 109.05,424.00 109.52,424.00 109.99,424.00 110.46,424.00 110.93,424.00 111.39,424.00 111.86,424.00 112.33,424.00 112.80,424.00 113.27,424.00 113.74,424.00 114.20,424.00 114.67,424.00 115.14,424.00 115.61,424.00 116.08,424.00 116.55,424.00 117.02,424.00 117.48,424.00 117.95,424.00 118.42,424.00 118.89,424.00 119.36,424.00 119.83,424.00 120.30,424.00 120.76,424.00 121.23,424.00 121.70,424.00 122.17,424.00 122.64,424.00 123.11,424.00 123.57,424.00 124.04,424.00 124.51,424.00 124.98,424.00 125.45,424.00 125.92,424.00 126.39,424.00 126.85,424.00 127.32,424.00 127.79,424.00 128.26,424.00 132.94,424.00 137.63,424.00 142.31,424.00 147.00,424.00 151.69,424.00 156.37,424.00 161.06,424.00 165.74,424.00 170.42,424.00 175.11,424.00 179.79,424.00 184.48,424.00 189.16,424.00 193.85,424.00 198.53,424.00 203.22,424.00 207.90,424.00 212.59,424.00 217.27,424.00 221.96,424.00 226.64,424.00 231.33,424.00 236.01,424.00 240.70,424.00 245.38,424.00 250.07,424.00 254.75,424.00 259.44,424.00 264.12,424.00 268.81,424.00 273.50,424.00 278.18,424.00 282.86,424.00 287.55,424.00 292.23,424.00 296.92,424.00 301.60,424.00 306.29,424.00 310.97,424.00 315.66,424.00 320.34,424.00 325.03,424.00 329.71,424.00 334.40,424.00 334.40,424.00 339.08,424.00 343.77,424.00 348.45,424.00 353.14,424.00 357.82,424.00 362.51,424.00 367.19,424.00 371.88,424.00 376.56,424.00 381.25,424.00 385.94,424.00 390.62,424.00 395.31,424.00 399.99,424.00 404.67,424.00 409.36,424.00 414.04,424.00 418.73,424.00 423.41,424.00 428.10,424.00 432.78,424.00 437.47,424.00 442.15,424.00 446.84,424.00 451.52,424.00 451.52,424.00" fill="none" stroke="#20a020" stroke-width="1.7" stroke-linejoin="round" stroke-linecap="round" />
<polyline points="53.30,424.00 100.15,424.00 100.15,424.00 100.27,423.98 100.38,423.96 100.50,423.93 100.62,423.91 100.74,423.88 100.85,423.86 100.97,423.83 101.09,423.81 101.20,423.78 101.32,423.76 101.44,423.73 101.56,423.71 101.67,423.69 101.79,423.67 101.91,423.65 102.02,423.64 102.14,423.63 102.26,423.62 102.38,423.61 102.49,423.61 102.61,423.61 102.73,423.61 102.84,423.61 102.96,423.61 103.08,423.61 103.20,423.61 103.31,423.61 103.43,423.61 103.55,423.61 103.66,423.61 103.78,423.61 103.90,423.61 104.02,423.61 104.13,423.61 104.25,423.61 104.37,423.61 104.48,423.61 104.60,423.61 104.72,423.61 104.83,423.61 105.30,423.61 105.77,423.61 106.24,423.61 106.71,423.61 107.18,423.61 107.65,423.61 108.11,423.61 108.58,423.61 109.05,423.61 109.52,423.61 109.99,423.61 110.46,423.61 110.93,423.61 111.39,423.61 111.86,423.61 112.33,423.61 112.80,423.61 113.27,423.61 113.74,423.61 114.20,423.61 114.67,423.61 115.14,423.61 115.61,423.61 116.08,423.61 116.55,423.61 117.02,423.61 117.48,423.61 117.95,423.61 118.42,423.61 118.89,423.61 119.36,423.61 119.83,423.61 120.30,423.61 120.76,423.61 121.23,423.61 121.70,423.61 122.17,423.61 122.64,423.61 123.11,423.61 123.57,423.61 124.04,423.61 124.51,423.61 124.98,423.61 125.45,423.61 125.92,423.61 126.39,423.61 126.85,423.61 127.32,423.61 127.79,423.61 128.26,423.61 132.94,423.61 137.63,423.61 142.31,423.61 147.00,423.61 151.69,423.61 156.37,423.62 161.06,423.62 165.74,423.62 170.42,423.62 175.11,423.62 179.79,423.62 184.48,423.62 189.16,423.63 193.85,423.63 198.53,423.63 203.22,423.64 207.90,423.64 212.59,423.64 217.27,423.65 221.96,423.65 226.64,423.66 231.33,423.66 236.01,423.67 240.70,423.67 245.38,423.68 250.07,423.69 254.75,423.69 259.44,423.70 264.12,423.71 268.81,423.72 273.50,423.73 278.18,423.74 282.86,423.75 287.55,423.76 292.23,423.77 296.92,423.78 301.60,423.80 306.29,423.81 310.97,423.82 315.66,423.84 320.34,423.85 325.03,423.87 329.71,423.89 334.40,423.90 334.40,423.90 339.08,423.97 343.77,423.99 348.45,424.00 353.14,424.00 357.82,424.00 362.51,424.00 367.19,424.00 371.88,424.00 376.56,424.00 381.25,424.00 385.94,424.00 390.62,424.00 395.31,424.00 399.99,424.00 404.67,424.00 409.36,424.00 414.04,424.00 418.73,424.00 423.41,424.00 428.10,424.00 432.78,424.00 437.47,424.00 442.15,424.00 446.84,424.00 451.52,424.00 451.52,424.00" fill="none" stroke="#30b060" stroke-width="1.7" stroke-linejoin="round" stroke-linecap="round" />
<polyline points="53.30,424.00 100.15,424.00 100.15,424.00 100.27,423.92 100.38,423.84 100.50,423.77 100.62,423.69 100.74,423.61 100.85,423.52 100.97,423.44 101.09,423.36 101.20,423.29 101.32,423.21 101.44,423.13 101.56,423.05 101.67,422.98 101.79,422.91 101.91,422.84 102.02,422.77 102.14,422.71 102.26,422.65 102.38,422.59 102.49,422.54 102.61,422.49 102.73,422.44 102.84,422.40 102.96,422.36 103.08,422.33 103.20,422.30 103.31,422.28 103.43,422.27 103.55,422.26 103.66,422.25 103.78,422.25 103.90,422.25 104.02,422.25 104.13,422.26 104.25,422.26 104.37,422.26 104.48,422.26 104.60,422.26 104.72,422.26 104.83,422.26 105.30,422.27 105.77,422.27 106.24,422.28 106.71,422.29 107.18,422.30 107.65,422.32 108.11,422.33 108.58,422.34 109.05,422.36 109.52,422.37 109.99,422.39 110.46,422.40 110.93,422.42 111.39,422.43 111.86,422.45 112.33,422.46 112.80,422.48 113.27,422.50 113.74,422.52 114.20,422.55 114.67,422.57 115.14,422.60 115.61,422.62 116.08,422.65 116.55,422.68 117.02,422.71 117.48,422.74 117.95,422.77 118.42,422.79 118.89,422.82 119.36,422.85 119.83,422.88 120.30,422.90 120.76,422.92 121.23,422.95 121.70,422.97 122.17,422.99 122.64,423.00 123.11,423.02 123.57,423.03 124.04,423.04 124.51,423.05 124.98,423.06 125.45,423.07 125.92,423.08 126.39,423.09 126.85,423.10 127.32,423.11 127.79,423.12 128.26,423.13 132.94,423.22 137.63,423.30 142.31,423.38 147.00,423.44 151.69,423.49 156.37,423.54 161.06,423.57 165.74,423.60 170.42,423.61 175.11,423.62 179.79,423.64 184.48,423.65 189.16,423.66 193.85,423.67 198.53,423.68 203.22,423.69 207.90,423.69 212.59,423.70 217.27,423.71 221.96,423.72 226.64,423.73 231.33,423.73 236.01,423.74 240.70,423.75 245.38,423.75 250.07,423.76 254.75,423.76 259.44,423.77 264.12,423.77 268.81,423.78 273.50,423.78 278.18,423.79 282.86,423.79 287.55,423.79 292.23,423.79 296.92,423.80 301.60,423.80 306.29,423.80 310.97,423.80 315.66,423.80 320.34,423.80 325.03,423.81 329.71,423.81 334.40,423.81 334.40,423.81 339.08,423.95 343.77,423.99 348.45,424.00 353.14,424.00 357.82,424.00 362.51,424.00 367.19,424.00 371.88,424.00 376.56,424.00 381.25,424.00 385.94,424.00 390.62,424.00 395.31,424.00 399.99,424.00 404.67,424.00 409.36,424.00 414.04,424.00 418.73,424.00 423.41,424.00 428.10,424.00 432.78,424.00 437.47,424.00 442.15,424.00 446.84,424.00 451.52,424.00 451.52,424.00" fill="none" stroke="#30c0c8" stroke-width="1.7" stroke-linejoin="round" stroke-linecap="round" />
<polyline points="53.30,424.00 100.15,424.00 100.15,424.00 100.27,423.67 100.38,423.35 100.50,423.02 100.62,422.69 100.74,422.36 100.85,422.03 100.97,421.71 101.09,421.38 101.20,421.07 101.32,420.75 101.44,420.44 101.56,420.14 101.67,419.85 101.79,419.56 101.91,419.28 102.02,419.01 102.14,418.75 102.26,418.51 102.38,418.27 102.49,418.05 102.61,417.84 102.73,417.64 102.84,417.46 102.96,417.29 103.08,417.14 103.20,417.01 103.31,416.90 103.43,416.80 103.55,416.73 103.66,416.67 103.78,416.64 103.90,416.63 104.02,416.63 104.13,416.63 104.25,416.64 104.37,416.65 104.48,416.66 104.60,416.67 104.72,416.69 104.83,416.71 105.30,416.80 105.77,416.93 106.24,417.07 106.71,417.24 107.18,417.42 107.65,417.61 108.11,417.81 108.58,418.00 109.05,418.20 109.52,418.38 109.99,418.55 110.46,418.70 110.93,418.82 111.39,418.95 111.86,419.08 112.33,419.21 112.80,419.34 113.27,419.47 113.74,419.60 114.20,419.73 114.67,419.86 115.14,419.99 115.61,420.11 116.08,420.24 116.55,420.36 117.02,420.48 117.48,420.59 117.95,420.71 118.42,420.82 118.89,420.92 119.36,421.02 119.83,421.12 120.30,421.21 120.76,421.30 121.23,421.38 121.70,421.45 122.17,421.52 122.64,421.57 123.11,421.63 123.57,421.67 124.04,421.71 124.51,421.75 124.98,421.79 125.45,421.83 125.92,421.87 126.39,421.90 126.85,421.94 127.32,421.97 127.79,422.01 128.26,422.04 132.94,422.34 137.63,422.57 142.31,422.73 147.00,422.84 151.69,422.91 156.37,422.97 161.06,423.03 165.74,423.09 170.42,423.14 175.11,423.18 179.79,423.22 184.48,423.26 189.16,423.29 193.85,423.32 198.53,423.35 203.22,423.37 207.90,423.39 212.59,423.40 217.27,423.42 221.96,423.43 226.64,423.44 231.33,423.46 236.01,423.47 240.70,423.48 245.38,423.49 250.07,423.50 254.75,423.52 259.44,423.53 264.12,423.54 268.81,423.54 273.50,423.55 278.18,423.56 282.86,423.57 287.55,423.58 292.23,423.58 296.92,423.59 301.60,423.59 306.29,423.60 310.97,423.60 315.66,423.61 320.34,423.61 325.03,423.61 329.71,423.61 334.40,423.61 334.40,423.61 339.08,423.90 343.77,423.97 348.45,423.99 353.14,424.00 357.82,424.00 362.51,424.00 367.19,424.00 371.88,424.00 376.56,424.00 381.25,424.00 385.94,424.00 390.62,424.00 395.31,424.00 399.99,424.00 404.67,424.00 409.36,424.00 414.04,424.00 418.73,424.00 423.41,424.00 428.10,424.00 432.78,424.00 437.47,424.00 442.15,424.00 446.84,424.00 451.52,424.00 451.52,424.00" fill="none" stroke="#1f4aa8" stroke-width="1.7" stroke-linejoin="round" stroke-linecap="round" />
<polyline points="53.30,424.00 100.15,424.00 100.15,424.00 100.27,422.26 100.38,420.52 100.50,418.79 100.62,417.08 100.74,415.41 100.85,413.79 100.97,412.23 101.09,410.74 101.20,409.33 101.32,408.02 101.44,406.82 101.56,405.74 101.67,404.79 101.79,403.98 101.91,403.34 102.02,402.86 102.14,402.57 102.26,402.47 102.38,402.48 102.49,402.52 102.61,402.58 102.73,402.66 102.84,402.77 102.96,402.89 103.08,403.03 103.20,403.19 103.31,403.37 103.43,403.55 103.55,403.75 103.66,403.96 103.78,404.18 103.90,404.40 104.02,404.63 104.13,404.87 104.25,405.11 104.37,405.35 104.48,405.59 104.60,405.83 104.72,406.06 104.83,406.30 105.30,407.15 105.77,407.85 106.24,408.53 106.71,409.21 107.18,409.89 107.65,410.56 108.11,411.22 108.58,411.86 109.05,412.47 109.52,413.05 109.99,413.58 110.46,414.07 110.93,414.52 111.39,414.94 111.86,415.35 112.33,415.74 112.80,416.11 113.27,416.47 113.74,416.80 114.20,417.12 114.67,417.42 115.14,417.70 115.61,417.95 116.08,418.18 116.55,418.40 117.02,418.61 117.48,418.82 117.95,419.02 118.42,419.21 118.89,419.39 119.36,419.57 119.83,419.74 120.30,419.90 120.76,420.05 121.23,420.19 121.70,420.32 122.17,420.43 122.64,420.54 123.11,420.63 123.57,420.70 124.04,420.77 124.51,420.84 124.98,420.90 125.45,420.97 125.92,421.03 126.39,421.10 126.85,421.16 127.32,421.22 127.79,421.27 128.26,421.33 132.94,421.83 137.63,422.22 142.31,422.48 147.00,422.64 151.69,422.74 156.37,422.83 161.06,422.92 165.74,422.99 170.42,423.06 175.11,423.12 179.79,423.17 184.48,423.22 189.16,423.26 193.85,423.30 198.53,423.33 203.22,423.36 207.90,423.38 212.59,423.40 217.27,423.42 221.96,423.43 226.64,423.45 231.33,423.46 236.01,423.47 240.70,423.48 245.38,423.50 250.07,423.51 254.75,423.52 259.44,423.53 264.12,423.54 268.81,423.55 273.50,423.56 278.18,423.56 282.86,423.57 287.55,423.58 292.23,423.58 296.92,423.59 301.60,423.60 306.29,423.60 310.97,423.60 315.66,423.61 320.34,423.61 325.03,423.61 329.71,423.61 334.40,423.61 334.40,423.61 339.08,423.90 343.77,423.97 348.45,423.99 353.14,424.00 357.82,424.00 362.51,424.00 367.19,424.00 371.88,424.00 376.56,424.00 381.25,424.00 385.94,424.00 390.62,424.00 395.31,424.00 399.99,424.00 404.67,424.00 409.36,424.00 414.04,424.00 418.73,424.00 423.41,424.00 428.10,424.00 432.78,424.00 437.47,424.00 442.15,424.00 446.84,424.00 451.52,424.00 451.52,424.00" fill="none" stroke="#3c3c9c" stroke-width="1.7" stroke-linejoin="round" stroke-linecap="round" />
<polyline points="53.30,424.00 100.15,424.00 100.15,424.00 100.27,419.84 100.38,415.73 100.50,411.74 100.62,407.93 100.74,404.35 100.85,401.06 100.97,398.11 101.09,395.57 101.20,393.50 101.32,391.94 101.44,390.97 101.56,390.63 101.67,390.66 101.79,390.74 101.91,390.87 102.02,391.04 102.14,391.25 102.26,391.50 102.38,391.76 102.49,392.05 102.61,392.36 102.73,392.67 102.84,392.99 102.96,393.31 103.08,393.63 103.20,393.93 103.31,394.24 103.43,394.57 103.55,394.93 103.66,395.31 103.78,395.71 103.90,396.13 104.02,396.56 104.13,397.00 104.25,397.45 104.37,397.91 104.48,398.38 104.60,398.85 104.72,399.32 104.83,399.79 105.30,401.62 105.77,403.27 106.24,404.67 106.71,405.99 107.18,407.22 107.65,408.35 108.11,409.37 108.58,410.34 109.05,411.27 109.52,412.13 109.99,412.92 110.46,413.61 110.93,414.20 111.39,414.76 111.86,415.29 112.33,415.80 112.80,416.28 113.27,416.73 113.74,417.15 114.20,417.54 114.67,417.89 115.14,418.22 115.61,418.51 116.08,418.76 116.55,418.99 117.02,419.22 117.48,419.43 117.95,419.64 118.42,419.84 118.89,420.03 119.36,420.21 119.83,420.38 120.30,420.53 120.76,420.68 121.23,420.81 121.70,420.93 122.17,421.04 122.64,421.14 123.11,421.22 123.57,421.28 124.04,421.34 124.51,421.40 124.98,421.45 125.45,421.51 125.92,421.56 126.39,421.61 126.85,421.66 127.32,421.71 127.79,421.76 128.26,421.81 132.94,422.21 137.63,422.51 142.31,422.71 147.00,422.84 151.69,422.92 156.37,423.00 161.06,423.07 165.74,423.14 170.42,423.20 175.11,423.25 179.79,423.30 184.48,423.34 189.16,423.38 193.85,423.41 198.53,423.44 203.22,423.46 207.90,423.48 212.59,423.50 217.27,423.51 221.96,423.53 226.64,423.54 231.33,423.56 236.01,423.57 240.70,423.58 245.38,423.59 250.07,423.60 254.75,423.61 259.44,423.62 264.12,423.63 268.81,423.64 273.50,423.65 278.18,423.66 282.86,423.67 287.55,423.67 292.23,423.68 296.92,423.69 301.60,423.69 306.29,423.70 310.97,423.70 315.66,423.70 320.34,423.71 325.03,423.71 329.71,423.71 334.40,423.71 334.40,423.71 339.08,423.92 343.77,423.98 348.45,423.99 353.14,424.00 357.82,424.00 362.51,424.00 367.19,424.00 371.88,424.00 376.56,424.00 381.25,424.00 385.94,424.00 390.62,424.00 395.31,424.00 399.99,424.00 404.67,424.00 409.36,424.00 414.04,424.00 418.73,424.00 423.41,424.00 428.10,424.00 432.78,424.00 437.47,424.00 442.15,424.00 446.84,424.00 451.52,424.00 451.52,424.00" fill="none" stroke="#8c1ea8" stroke-width="1.7" stroke-linejoin="round" stroke-linecap="round" />
<polyline points="53.30,424.00 100.15,424.00 100.15,424.00 100.27,415.73 100.38,407.29 100.50,399.18 100.62,391.88 100.74,385.89 100.85,381.71 100.97,379.83 101.09,379.81 101.20,379.98 101.32,380.26 101.44,380.65 101.56,381.13 101.67,381.69 101.79,382.32 101.91,383.01 102.02,383.75 102.14,384.53 102.26,385.34 102.38,386.16 102.49,386.99 102.61,387.81 102.73,388.61 102.84,389.38 102.96,390.11 103.08,390.79 103.20,391.41 103.31,391.99 103.43,392.59 103.55,393.18 103.66,393.78 103.78,394.38 103.90,394.98 104.02,395.58 104.13,396.18 104.25,396.78 104.37,397.37 104.48,397.95 104.60,398.53 104.72,399.10 104.83,399.66 105.30,401.76 105.77,403.61 106.24,405.16 106.71,406.54 107.18,407.77 107.65,408.91 108.11,409.97 108.58,410.97 109.05,411.89 109.52,412.74 109.99,413.52 110.46,414.26 110.93,414.97 111.39,415.65 111.86,416.28 112.33,416.86 112.80,417.37 113.27,417.82 113.74,418.23 114.20,418.63 114.67,418.99 115.14,419.32 115.61,419.63 116.08,419.89 116.55,420.12 117.02,420.33 117.48,420.53 117.95,420.72 118.42,420.91 118.89,421.09 119.36,421.26 119.83,421.42 120.30,421.57 120.76,421.71 121.23,421.84 121.70,421.95 122.17,422.05 122.64,422.13 123.11,422.20 123.57,422.25 124.04,422.30 124.51,422.34 124.98,422.38 125.45,422.42 125.92,422.45 126.39,422.49 126.85,422.53 127.32,422.56 127.79,422.60 128.26,422.63 132.94,422.91 137.63,423.11 142.31,423.24 147.00,423.32 151.69,423.38 156.37,423.43 161.06,423.48 165.74,423.52 170.42,423.56 175.11,423.59 179.79,423.62 184.48,423.65 189.16,423.68 193.85,423.70 198.53,423.71 203.22,423.73 207.90,423.74 212.59,423.76 217.27,423.77 221.96,423.78 226.64,423.79 231.33,423.80 236.01,423.80 240.70,423.81 245.38,423.82 250.07,423.83 254.75,423.84 259.44,423.84 264.12,423.85 268.81,423.86 273.50,423.86 278.18,423.87 282.86,423.87 287.55,423.88 292.23,423.88 296.92,423.89 301.60,423.89 306.29,423.89 310.97,423.90 315.66,423.90 320.34,423.90 325.03,423.90 329.71,423.90 334.40,423.90 334.40,423.90 339.08,423.97 343.77,423.99 348.45,424.00 353.14,424.00 357.82,424.00 362.51,424.00 367.19,424.00 371.88,424.00 376.56,424.00 381.25,424.00 385.94,424.00 390.62,424.00 395.31,424.00 399.99,424.00 404.67,424.00 409.36,424.00 414.04,424.00 418.73,424.00 423.41,424.00 428.10,424.00 432.78,424.00 437.47,424.00 442.15,424.00 446.84,424.00 451.52,424.00 451.52,424.00" fill="none" stroke="#c8187f" stroke-width="1.7" stroke-linejoin="round" stroke-linecap="round" />
<polyline points="53.30,495.10 100.15,495.10 100.15,511.18 334.40,511.18 334.40,495.10 451.52,495.10" fill="none" stroke="#c86010" stroke-width="1.5" stroke-linejoin="round" stroke-linecap="round" stroke-linecap="butt" stroke-linejoin="miter"/>
<polyline points="53.30,495.10 100.15,495.10 100.15,505.82 334.40,505.82 334.40,495.10 451.52,495.10" fill="none" stroke="#a0c820" stroke-width="1.5" stroke-linejoin="round" stroke-linecap="round" stroke-linecap="butt" stroke-linejoin="miter"/>
<polyline points="53.30,495.10 100.15,495.10 100.15,500.46 334.40,500.46 334.40,495.10 451.52,495.10" fill="none" stroke="#20a020" stroke-width="1.5" stroke-linejoin="round" stroke-linecap="round" stroke-linecap="butt" stroke-linejoin="miter"/>
<polyline points="53.30,495.10 100.15,495.10 100.15,495.10 334.40,495.10 334.40,495.10 451.52,495.10" fill="none" stroke="#30b060" stroke-width="1.5" stroke-linejoin="round" stroke-linecap="round" stroke-linecap="butt" stroke-linejoin="miter"/>
<polyline points="53.30,495.10 100.15,495.10 100.15,489.74 334.40,489.74 334.40,495.10 451.52,495.10" fill="none" stroke="#30c0c8" stroke-width="1.5" stroke-linejoin="round" stroke-linecap="round" stroke-linecap="butt" stroke-linejoin="miter"/>
<polyline points="53.30,495.10 100.15,495.10 100.15,484.38 334.40,484.38 334.40,495.10 451.52,495.10" fill="none" stroke="#1f4aa8" stroke-width="1.5" stroke-linejoin="round" stroke-linecap="round" stroke-linecap="butt" stroke-linejoin="miter"/>
<polyline points="53.30,495.10 100.15,495.10 100.15,479.02 334.40,479.02 334.40,495.10 451.52,495.10" fill="none" stroke="#3c3c9c" stroke-width="1.5" stroke-linejoin="round" stroke-linecap="round" stroke-linecap="butt" stroke-linejoin="miter"/>
<polyline points="53.30,495.10 100.15,495.10 100.15,473.66 334.40,473.66 334.40,495.10 451.52,495.10" fill="none" stroke="#8c1ea8" stroke-width="1.5" stroke-linejoin="round" stroke-linecap="round" stroke-linecap="butt" stroke-linejoin="miter"/>
<polyline points="53.30,495.10 100.15,495.10 100.15,468.30 334.40,468.30 334.40,495.10 451.52,495.10" fill="none" stroke="#c8187f" stroke-width="1.5" stroke-linejoin="round" stroke-linecap="round" stroke-linecap="butt" stroke-linejoin="miter"/>
<polyline points="524.40,192.54 525.54,192.72 526.69,192.92 527.83,193.15 528.98,193.41 530.12,193.72 531.27,194.07 532.41,194.47 533.56,194.93 534.70,195.45 535.85,196.05 537.00,196.74 538.14,197.53 539.28,198.42 540.43,199.44 541.57,200.59 542.72,201.90 543.87,203.37 545.01,205.03 546.15,206.89 547.30,208.97 548.44,211.29 549.59,213.85 550.74,216.68 551.88,219.77 553.02,223.15 554.17,226.79 555.31,230.70 556.46,234.87 557.61,239.26 558.75,243.86 559.89,248.63 561.04,253.52 562.18,258.50 563.33,263.50 564.48,268.49 565.62,273.40 566.76,278.20 567.91,282.83 569.05,287.27 570.20,291.49 571.35,295.45 572.49,299.15 573.63,302.57 574.78,305.72 575.92,308.60 577.07,311.22 578.21,313.58 579.36,315.71 580.50,317.61 581.65,319.31 582.79,320.82 583.94,322.16 585.09,323.34 586.23,324.39 587.38,325.30 588.52,326.11 589.66,326.81 590.81,327.43 591.95,327.97 593.10,328.45 594.25,328.86 595.39,329.22 596.53,329.53 597.68,329.80 598.82,330.04 599.97,330.24 601.12,330.42 602.26,330.58 603.40,330.71 604.55,330.83 605.69,330.93 606.84,331.02 607.99,331.10 609.13,331.16 610.27,331.22 611.42,331.27 612.56,331.32 613.71,331.35 614.86,331.39 616.00,331.41 617.14,331.44 618.29,331.46 619.43,331.48 620.58,331.50 621.73,331.51 622.87,331.52 624.01,331.53 625.16,331.54 626.30,331.55 627.45,331.56 628.60,331.56 629.74,331.57 630.88,331.57 632.03,331.57 633.17,331.58 634.32,331.58 635.46,331.58 636.61,331.59 637.75,331.59 638.90,331.59 640.04,331.59 641.19,331.59 642.34,331.59 643.48,331.59 644.62,331.59 645.77,331.60 646.91,331.60 648.06,331.60 649.20,331.60 650.35,331.60 651.50,331.60 652.64,331.60 653.78,331.60 654.93,331.60 656.08,331.60 657.22,331.60 658.37,331.60 659.51,331.60 660.65,331.60 661.80,331.60" fill="none" stroke="#108010" stroke-width="1.8" stroke-linejoin="round" stroke-linecap="round" />
<polyline points="524.40,331.60 525.54,331.60 526.69,331.60 527.83,331.60 528.98,331.60 530.12,331.60 531.27,331.60 532.41,331.60 533.56,331.60 534.70,331.60 535.85,331.60 537.00,331.60 538.14,331.59 539.28,331.59 540.43,331.59 541.57,331.59 542.72,331.59 543.87,331.59 545.01,331.58 546.15,331.58 547.30,331.58 548.44,331.57 549.59,331.57 550.74,331.56 551.88,331.55 553.02,331.54 554.17,331.53 555.31,331.52 556.46,331.50 557.61,331.48 558.75,331.46 559.89,331.43 561.04,331.40 562.18,331.36 563.33,331.31 564.48,331.25 565.62,331.19 566.76,331.11 567.91,331.01 569.05,330.89 570.20,330.76 571.35,330.59 572.49,330.40 573.63,330.16 574.78,329.89 575.92,329.56 577.07,329.17 578.21,328.70 579.36,328.15 580.50,327.49 581.65,326.71 582.79,325.80 583.94,324.72 585.09,323.45 586.23,321.97 587.38,320.24 588.52,318.23 589.66,315.91 590.81,313.25 591.95,310.20 593.10,306.76 594.25,302.90 595.39,298.61 596.53,293.89 597.68,288.77 598.82,283.29 599.97,277.49 601.12,271.45 602.26,265.25 603.40,259.00 604.55,252.78 605.69,246.70 606.84,240.85 607.99,235.30 609.13,230.10 610.27,225.30 611.42,220.92 612.56,216.98 613.71,213.45 614.86,210.33 616.00,207.59 617.14,205.21 618.29,203.14 619.43,201.35 620.58,199.82 621.73,198.52 622.87,197.40 624.01,196.46 625.16,195.65 626.30,194.98 627.45,194.40 628.60,193.92 629.74,193.52 630.88,193.17 632.03,192.89 633.17,192.65 634.32,192.44 635.46,192.27 636.61,192.13 637.75,192.01 638.90,191.91 640.04,191.83 641.19,191.76 642.34,191.70 643.48,191.65 644.62,191.61 645.77,191.58 646.91,191.55 648.06,191.52 649.20,191.50 650.35,191.49 651.50,191.47 652.64,191.46 653.78,191.45 654.93,191.44 656.08,191.44 657.22,191.43 658.37,191.42 659.51,191.42 660.65,191.42 661.80,191.41" fill="none" stroke="#e02828" stroke-width="1.6" stroke-linejoin="round" stroke-linecap="round" />
<polyline points="524.40,487.52 525.54,486.53 526.69,485.50 527.83,484.44 528.98,483.35 530.12,482.22 531.27,481.06 532.41,479.86 533.56,478.63 534.70,477.36 535.85,476.05 537.00,474.72 538.14,473.35 539.28,471.95 540.43,470.51 541.57,469.05 542.72,467.56 543.87,466.04 545.01,464.49 546.15,462.92 547.30,461.32 548.44,459.70 549.59,458.06 550.74,456.41 551.88,454.74 553.02,453.05 554.17,451.35 555.31,449.65 556.46,447.93 557.61,446.22 558.75,444.49 559.89,442.77 561.04,441.06 562.18,439.34 563.33,437.64 564.48,435.94 565.62,434.26 566.76,432.59 567.91,430.94 569.05,429.30 570.20,427.69 571.35,426.09 572.49,424.52 573.63,422.98 574.78,421.46 575.92,419.98 577.07,418.52 578.21,417.09 579.36,415.69 580.50,414.33 581.65,413.00 582.79,411.70 583.94,410.44 585.09,409.21 586.23,408.02 587.38,406.86 588.52,405.73 589.66,404.65 590.81,403.59 591.95,402.57 593.10,401.59 594.25,400.64 595.39,399.72 596.53,398.83 597.68,397.98 598.82,397.16 599.97,396.37 601.12,395.61 602.26,394.88 603.40,394.18 604.55,393.51 605.69,392.86 606.84,392.25 607.99,391.65 609.13,391.09 610.27,390.54 611.42,390.02 612.56,389.52 613.71,389.05 614.86,388.59 616.00,388.16 617.14,387.74 618.29,387.35 619.43,386.97 620.58,386.61 621.73,386.26 622.87,385.94 624.01,385.62 625.16,385.32 626.30,385.04 627.45,384.77 628.60,384.51 629.74,384.26 630.88,384.03 632.03,383.81 633.17,383.60 634.32,383.39 635.46,383.20 636.61,383.02 637.75,382.85 638.90,382.68 640.04,382.52 641.19,382.37 642.34,382.23 643.48,382.10 644.62,381.97 645.77,381.85 646.91,381.73 648.06,381.62 649.20,381.52 650.35,381.42 651.50,381.32 652.64,381.23 653.78,381.15 654.93,381.07 656.08,380.99 657.22,380.92 658.37,380.85 659.51,380.78 660.65,380.72 661.80,380.66" fill="none" stroke="#108010" stroke-width="1.8" stroke-linejoin="round" stroke-linecap="round" />
<polyline points="524.40,506.39 525.54,506.05 526.69,505.69 527.83,505.32 528.98,504.93 530.12,504.53 531.27,504.10 532.41,503.67 533.56,503.21 534.70,502.74 535.85,502.25 537.00,501.74 538.14,501.21 539.28,500.66 540.43,500.10 541.57,499.52 542.72,498.91 543.87,498.29 545.01,497.65 546.15,496.99 547.30,496.32 548.44,495.63 549.59,494.92 550.74,494.20 551.88,493.47 553.02,492.72 554.17,491.97 555.31,491.21 556.46,490.45 557.61,489.68 558.75,488.91 559.89,488.15 561.04,487.40 562.18,486.66 563.33,485.93 564.48,485.23 565.62,484.55 566.76,483.90 567.91,483.28 569.05,482.70 570.20,482.16 571.35,481.67 572.49,481.23 573.63,480.84 574.78,480.51 575.92,480.24 577.07,480.03 578.21,479.89 579.36,479.82 580.50,479.80 581.65,479.86 582.79,479.98 583.94,480.16 585.09,480.41 586.23,480.71 587.38,481.07 588.52,481.48 589.66,481.94 590.81,482.45 591.95,483.00 593.10,483.59 594.25,484.20 595.39,484.85 596.53,485.52 597.68,486.21 598.82,486.92 599.97,487.63 601.12,488.36 602.26,489.09 603.40,489.83 604.55,490.56 605.69,491.29 606.84,492.01 607.99,492.73 609.13,493.44 610.27,494.13 611.42,494.82 612.56,495.49 613.71,496.14 614.86,496.78 616.00,497.41 617.14,498.02 618.29,498.61 619.43,499.18 620.58,499.74 621.73,500.28 622.87,500.81 624.01,501.31 625.16,501.80 626.30,502.28 627.45,502.73 628.60,503.18 629.74,503.60 630.88,504.01 632.03,504.41 633.17,504.79 634.32,505.16 635.46,505.51 636.61,505.85 637.75,506.18 638.90,506.49 640.04,506.79 641.19,507.08 642.34,507.36 643.48,507.63 644.62,507.89 645.77,508.13 646.91,508.37 648.06,508.60 649.20,508.82 650.35,509.03 651.50,509.23 652.64,509.42 653.78,509.61 654.93,509.79 656.08,509.96 657.22,510.12 658.37,510.28 659.51,510.43 660.65,510.57 661.80,510.71" fill="none" stroke="#2030a0" stroke-width="1.8" stroke-linejoin="round" stroke-linecap="round" />
<polyline points="524.40,515.64 525.54,515.61 526.69,515.57 527.83,515.54 528.98,515.50 530.12,515.46 531.27,515.41 532.41,515.36 533.56,515.30 534.70,515.24 535.85,515.18 537.00,515.11 538.14,515.04 539.28,514.96 540.43,514.88 541.57,514.79 542.72,514.70 543.87,514.61 545.01,514.51 546.15,514.41 547.30,514.30 548.44,514.20 549.59,514.09 550.74,513.97 551.88,513.86 553.02,513.75 554.17,513.63 555.31,513.52 556.46,513.41 557.61,513.30 558.75,513.19 559.89,513.08 561.04,512.98 562.18,512.89 563.33,512.80 564.48,512.72 565.62,512.64 566.76,512.57 567.91,512.51 569.05,512.46 570.20,512.42 571.35,512.38 572.49,512.36 573.63,512.35 574.78,512.34 575.92,512.35 577.07,512.37 578.21,512.39 579.36,512.43 580.50,512.48 581.65,512.53 582.79,512.60 583.94,512.67 585.09,512.75 586.23,512.83 587.38,512.92 588.52,513.02 589.66,513.12 590.81,513.23 591.95,513.34 593.10,513.45 594.25,513.56 595.39,513.67 596.53,513.79 597.68,513.90 598.82,514.02 599.97,514.13 601.12,514.24 602.26,514.34 603.40,514.45 604.55,514.55 605.69,514.64 606.84,514.74 607.99,514.83 609.13,514.91 610.27,514.99 611.42,515.07 612.56,515.14 613.71,515.20 614.86,515.27 616.00,515.32 617.14,515.38 618.29,515.43 619.43,515.47 620.58,515.51 621.73,515.55 622.87,515.59 624.01,515.62 625.16,515.65 626.30,515.67 627.45,515.70 628.60,515.72 629.74,515.73 630.88,515.75 632.03,515.77 633.17,515.78 634.32,515.79 635.46,515.80 636.61,515.81 637.75,515.82 638.90,515.82 640.04,515.83 641.19,515.83 642.34,515.84 643.48,515.84 644.62,515.84 645.77,515.85 646.91,515.85 648.06,515.85 649.20,515.85 650.35,515.85 651.50,515.85 652.64,515.85 653.78,515.86 654.93,515.86 656.08,515.86 657.22,515.86 658.37,515.86 659.51,515.86 660.65,515.86 661.80,515.86" fill="none" stroke="#e02828" stroke-width="1.6" stroke-linejoin="round" stroke-linecap="round" />
<polyline points="53.30,6.50 53.30,331.80 451.52,331.80" fill="none" stroke="#111" stroke-width="1.7" stroke-linejoin="round" stroke-linecap="butt"/>
<line x1="100.15" y1="331.80" x2="100.15" y2="326.80" stroke="#333" stroke-width="1.1" />
<line x1="147.00" y1="331.80" x2="147.00" y2="326.80" stroke="#333" stroke-width="1.1" />
<line x1="193.85" y1="331.80" x2="193.85" y2="326.80" stroke="#333" stroke-width="1.1" />
<line x1="240.70" y1="331.80" x2="240.70" y2="326.80" stroke="#333" stroke-width="1.1" />
<line x1="287.55" y1="331.80" x2="287.55" y2="326.80" stroke="#333" stroke-width="1.1" />
<line x1="334.40" y1="331.80" x2="334.40" y2="326.80" stroke="#333" stroke-width="1.1" />
<line x1="381.25" y1="331.80" x2="381.25" y2="326.80" stroke="#333" stroke-width="1.1" />
<line x1="428.10" y1="331.80" x2="428.10" y2="326.80" stroke="#333" stroke-width="1.1" />
<line x1="53.30" y1="295.30" x2="58.30" y2="295.30" stroke="#333" stroke-width="1.1" />
<line x1="53.30" y1="259.20" x2="58.30" y2="259.20" stroke="#333" stroke-width="1.1" />
<line x1="53.30" y1="223.10" x2="58.30" y2="223.10" stroke="#333" stroke-width="1.1" />
<line x1="53.30" y1="187.00" x2="58.30" y2="187.00" stroke="#333" stroke-width="1.1" />
<line x1="53.30" y1="150.90" x2="58.30" y2="150.90" stroke="#333" stroke-width="1.1" />
<line x1="53.30" y1="114.80" x2="58.30" y2="114.80" stroke="#333" stroke-width="1.1" />
<line x1="53.30" y1="78.70" x2="58.30" y2="78.70" stroke="#333" stroke-width="1.1" />
<line x1="53.30" y1="42.60" x2="58.30" y2="42.60" stroke="#333" stroke-width="1.1" />
<line x1="53.30" y1="6.50" x2="58.30" y2="6.50" stroke="#333" stroke-width="1.1" />
<text x="53.30" y="347.30" font-size="13.5" text-anchor="middle" font-weight="normal" >0</text>
<text x="100.15" y="347.30" font-size="13.5" text-anchor="middle" font-weight="normal" >20</text>
<text x="147.00" y="347.30" font-size="13.5" text-anchor="middle" font-weight="normal" >40</text>
<text x="193.85" y="347.30" font-size="13.5" text-anchor="middle" font-weight="normal" >60</text>
<text x="240.70" y="347.30" font-size="13.5" text-anchor="middle" font-weight="normal" >80</text>
<text x="289.35" y="347.30" font-size="13.5" text-anchor="middle" font-weight="normal" >100</text>
<text x="336.20" y="347.30" font-size="13.5" text-anchor="middle" font-weight="normal" >120</text>
<text x="383.05" y="347.30" font-size="13.5" text-anchor="middle" font-weight="normal" >140</text>
<text x="429.90" y="347.30" font-size="13.5" text-anchor="middle" font-weight="normal" >160</text>
<text x="48.30" y="298.80" font-size="13.5" text-anchor="end" font-weight="normal" >0</text>
<text x="48.30" y="226.60" font-size="13.5" text-anchor="end" font-weight="normal" >1</text>
<text x="48.30" y="154.40" font-size="13.5" text-anchor="end" font-weight="normal" >2</text>
<text x="48.30" y="82.20" font-size="13.5" text-anchor="end" font-weight="normal" >3</text>
<text x="48.30" y="10.00" font-size="13.5" text-anchor="end" font-weight="normal" >4</text>
<polyline points="53.30,375.50 53.30,424.00 451.52,424.00" fill="none" stroke="#111" stroke-width="1.7" stroke-linejoin="round" stroke-linecap="butt"/>
<line x1="100.15" y1="424.00" x2="100.15" y2="419.00" stroke="#333" stroke-width="1.1" />
<line x1="147.00" y1="424.00" x2="147.00" y2="419.00" stroke="#333" stroke-width="1.1" />
<line x1="193.85" y1="424.00" x2="193.85" y2="419.00" stroke="#333" stroke-width="1.1" />
<line x1="240.70" y1="424.00" x2="240.70" y2="419.00" stroke="#333" stroke-width="1.1" />
<line x1="287.55" y1="424.00" x2="287.55" y2="419.00" stroke="#333" stroke-width="1.1" />
<line x1="334.40" y1="424.00" x2="334.40" y2="419.00" stroke="#333" stroke-width="1.1" />
<line x1="381.25" y1="424.00" x2="381.25" y2="419.00" stroke="#333" stroke-width="1.1" />
<line x1="428.10" y1="424.00" x2="428.10" y2="419.00" stroke="#333" stroke-width="1.1" />
<line x1="53.30" y1="414.30" x2="58.30" y2="414.30" stroke="#333" stroke-width="1.1" />
<line x1="53.30" y1="404.60" x2="58.30" y2="404.60" stroke="#333" stroke-width="1.1" />
<line x1="53.30" y1="394.90" x2="58.30" y2="394.90" stroke="#333" stroke-width="1.1" />
<line x1="53.30" y1="385.20" x2="58.30" y2="385.20" stroke="#333" stroke-width="1.1" />
<line x1="53.30" y1="375.50" x2="58.30" y2="375.50" stroke="#333" stroke-width="1.1" />
<text x="53.30" y="439.50" font-size="13.5" text-anchor="middle" font-weight="normal" >0</text>
<text x="100.15" y="439.50" font-size="13.5" text-anchor="middle" font-weight="normal" >20</text>
<text x="147.00" y="439.50" font-size="13.5" text-anchor="middle" font-weight="normal" >40</text>
<text x="193.85" y="439.50" font-size="13.5" text-anchor="middle" font-weight="normal" >60</text>
<text x="240.70" y="439.50" font-size="13.5" text-anchor="middle" font-weight="normal" >80</text>
<text x="289.35" y="439.50" font-size="13.5" text-anchor="middle" font-weight="normal" >100</text>
<text x="336.20" y="439.50" font-size="13.5" text-anchor="middle" font-weight="normal" >120</text>
<text x="383.05" y="439.50" font-size="13.5" text-anchor="middle" font-weight="normal" >140</text>
<text x="429.90" y="439.50" font-size="13.5" text-anchor="middle" font-weight="normal" >160</text>
<text x="48.30" y="427.50" font-size="13.5" text-anchor="end" font-weight="normal" >0.0</text>
<text x="48.30" y="408.10" font-size="13.5" text-anchor="end" font-weight="normal" >1.0</text>
<text x="48.30" y="388.70" font-size="13.5" text-anchor="end" font-weight="normal" >2.0</text>
<polyline points="53.30,467.90 53.30,516.14 451.52,516.14" fill="none" stroke="#111" stroke-width="1.7" stroke-linejoin="round" stroke-linecap="butt"/>
<line x1="100.15" y1="516.14" x2="100.15" y2="511.14" stroke="#333" stroke-width="1.1" />
<line x1="147.00" y1="516.14" x2="147.00" y2="511.14" stroke="#333" stroke-width="1.1" />
<line x1="193.85" y1="516.14" x2="193.85" y2="511.14" stroke="#333" stroke-width="1.1" />
<line x1="240.70" y1="516.14" x2="240.70" y2="511.14" stroke="#333" stroke-width="1.1" />
<line x1="287.55" y1="516.14" x2="287.55" y2="511.14" stroke="#333" stroke-width="1.1" />
<line x1="334.40" y1="516.14" x2="334.40" y2="511.14" stroke="#333" stroke-width="1.1" />
<line x1="381.25" y1="516.14" x2="381.25" y2="511.14" stroke="#333" stroke-width="1.1" />
<line x1="428.10" y1="516.14" x2="428.10" y2="511.14" stroke="#333" stroke-width="1.1" />
<line x1="53.30" y1="510.78" x2="58.30" y2="510.78" stroke="#333" stroke-width="1.1" />
<line x1="53.30" y1="505.42" x2="58.30" y2="505.42" stroke="#333" stroke-width="1.1" />
<line x1="53.30" y1="500.06" x2="58.30" y2="500.06" stroke="#333" stroke-width="1.1" />
<line x1="53.30" y1="494.70" x2="58.30" y2="494.70" stroke="#333" stroke-width="1.1" />
<line x1="53.30" y1="489.34" x2="58.30" y2="489.34" stroke="#333" stroke-width="1.1" />
<line x1="53.30" y1="483.98" x2="58.30" y2="483.98" stroke="#333" stroke-width="1.1" />
<line x1="53.30" y1="478.62" x2="58.30" y2="478.62" stroke="#333" stroke-width="1.1" />
<line x1="53.30" y1="473.26" x2="58.30" y2="473.26" stroke="#333" stroke-width="1.1" />
<line x1="53.30" y1="467.90" x2="58.30" y2="467.90" stroke="#333" stroke-width="1.1" />
<text x="53.30" y="531.64" font-size="13.5" text-anchor="middle" font-weight="normal" >0</text>
<text x="100.15" y="531.64" font-size="13.5" text-anchor="middle" font-weight="normal" >20</text>
<text x="147.00" y="531.64" font-size="13.5" text-anchor="middle" font-weight="normal" >40</text>
<text x="193.85" y="531.64" font-size="13.5" text-anchor="middle" font-weight="normal" >60</text>
<text x="240.70" y="531.64" font-size="13.5" text-anchor="middle" font-weight="normal" >80</text>
<text x="289.35" y="531.64" font-size="13.5" text-anchor="middle" font-weight="normal" >100</text>
<text x="336.20" y="531.64" font-size="13.5" text-anchor="middle" font-weight="normal" >120</text>
<text x="383.05" y="531.64" font-size="13.5" text-anchor="middle" font-weight="normal" >140</text>
<text x="429.90" y="531.64" font-size="13.5" text-anchor="middle" font-weight="normal" >160</text>
<text x="48.30" y="519.30" font-size="13.5" text-anchor="end" font-weight="normal" ><tspan dy="0.7">−</tspan><tspan dy="-0.7">100</tspan></text>
<text x="48.30" y="507.90" font-size="13.5" text-anchor="end" font-weight="normal" ><tspan dy="0.7">−</tspan><tspan dy="-0.7">80</tspan></text>
<text x="48.30" y="496.50" font-size="13.5" text-anchor="end" font-weight="normal" ><tspan dy="0.7">−</tspan><tspan dy="-0.7">60</tspan></text>
<text x="48.30" y="485.10" font-size="13.5" text-anchor="end" font-weight="normal" ><tspan dy="0.7">−</tspan><tspan dy="-0.7">40</tspan></text>
<text x="48.30" y="473.70" font-size="13.5" text-anchor="end" font-weight="normal" ><tspan dy="0.7">−</tspan><tspan dy="-0.7">20</tspan></text>
<polyline points="524.50,6.20 524.50,146.60 661.57,146.60" fill="none" stroke="#111" stroke-width="1.7" stroke-linejoin="round" stroke-linecap="butt"/>
<line x1="539.73" y1="146.60" x2="539.73" y2="141.60" stroke="#333" stroke-width="1.1" />
<line x1="554.96" y1="146.60" x2="554.96" y2="141.60" stroke="#333" stroke-width="1.1" />
<line x1="570.19" y1="146.60" x2="570.19" y2="141.60" stroke="#333" stroke-width="1.1" />
<line x1="585.42" y1="146.60" x2="585.42" y2="141.60" stroke="#333" stroke-width="1.1" />
<line x1="600.65" y1="146.60" x2="600.65" y2="141.60" stroke="#333" stroke-width="1.1" />
<line x1="615.88" y1="146.60" x2="615.88" y2="141.60" stroke="#333" stroke-width="1.1" />
<line x1="631.11" y1="146.60" x2="631.11" y2="141.60" stroke="#333" stroke-width="1.1" />
<line x1="646.34" y1="146.60" x2="646.34" y2="141.60" stroke="#333" stroke-width="1.1" />
<line x1="661.57" y1="146.60" x2="661.57" y2="141.60" stroke="#333" stroke-width="1.1" />
<line x1="524.50" y1="131.00" x2="529.50" y2="131.00" stroke="#333" stroke-width="1.1" />
<line x1="524.50" y1="115.40" x2="529.50" y2="115.40" stroke="#333" stroke-width="1.1" />
<line x1="524.50" y1="99.80" x2="529.50" y2="99.80" stroke="#333" stroke-width="1.1" />
<line x1="524.50" y1="84.20" x2="529.50" y2="84.20" stroke="#333" stroke-width="1.1" />
<line x1="524.50" y1="68.60" x2="529.50" y2="68.60" stroke="#333" stroke-width="1.1" />
<line x1="524.50" y1="53.00" x2="529.50" y2="53.00" stroke="#333" stroke-width="1.1" />
<line x1="524.50" y1="37.40" x2="529.50" y2="37.40" stroke="#333" stroke-width="1.1" />
<line x1="524.50" y1="21.80" x2="529.50" y2="21.80" stroke="#333" stroke-width="1.1" />
<line x1="524.50" y1="6.20" x2="529.50" y2="6.20" stroke="#333" stroke-width="1.1" />
<text x="524.50" y="162.10" font-size="13.5" text-anchor="middle" font-weight="normal" ><tspan dy="0.7">−</tspan><tspan dy="-0.7">100</tspan></text>
<text x="554.96" y="162.10" font-size="13.5" text-anchor="middle" font-weight="normal" ><tspan dy="0.7">−</tspan><tspan dy="-0.7">80</tspan></text>
<text x="585.42" y="162.10" font-size="13.5" text-anchor="middle" font-weight="normal" ><tspan dy="0.7">−</tspan><tspan dy="-0.7">60</tspan></text>
<text x="615.88" y="162.10" font-size="13.5" text-anchor="middle" font-weight="normal" ><tspan dy="0.7">−</tspan><tspan dy="-0.7">40</tspan></text>
<text x="646.34" y="162.10" font-size="13.5" text-anchor="middle" font-weight="normal" ><tspan dy="0.7">−</tspan><tspan dy="-0.7">20</tspan></text>
<text x="519.50" y="134.50" font-size="13.5" text-anchor="end" font-weight="normal" >0</text>
<text x="519.50" y="103.30" font-size="13.5" text-anchor="end" font-weight="normal" >1</text>
<text x="519.50" y="72.10" font-size="13.5" text-anchor="end" font-weight="normal" >2</text>
<text x="519.50" y="40.90" font-size="13.5" text-anchor="end" font-weight="normal" >3</text>
<text x="519.50" y="9.70" font-size="13.5" text-anchor="end" font-weight="normal" >4</text>
<polyline points="524.40,191.40 524.40,331.60 661.80,331.60" fill="none" stroke="#111" stroke-width="1.7" stroke-linejoin="round" stroke-linecap="butt"/>
<line x1="547.30" y1="331.60" x2="547.30" y2="326.60" stroke="#333" stroke-width="1.1" />
<line x1="570.20" y1="331.60" x2="570.20" y2="326.60" stroke="#333" stroke-width="1.1" />
<line x1="593.10" y1="331.60" x2="593.10" y2="326.60" stroke="#333" stroke-width="1.1" />
<line x1="616.00" y1="331.60" x2="616.00" y2="326.60" stroke="#333" stroke-width="1.1" />
<line x1="638.90" y1="331.60" x2="638.90" y2="326.60" stroke="#333" stroke-width="1.1" />
<line x1="661.80" y1="331.60" x2="661.80" y2="326.60" stroke="#333" stroke-width="1.1" />
<line x1="524.40" y1="303.56" x2="529.40" y2="303.56" stroke="#333" stroke-width="1.1" />
<line x1="524.40" y1="275.52" x2="529.40" y2="275.52" stroke="#333" stroke-width="1.1" />
<line x1="524.40" y1="247.48" x2="529.40" y2="247.48" stroke="#333" stroke-width="1.1" />
<line x1="524.40" y1="219.44" x2="529.40" y2="219.44" stroke="#333" stroke-width="1.1" />
<line x1="524.40" y1="191.40" x2="529.40" y2="191.40" stroke="#333" stroke-width="1.1" />
<text x="523.90" y="347.10" font-size="13.5" text-anchor="middle" font-weight="normal" ><tspan dy="0.7">−</tspan><tspan dy="-0.7">100</tspan></text>
<text x="549.30" y="347.10" font-size="13.5" text-anchor="middle" font-weight="normal" ><tspan dy="0.7">−</tspan><tspan dy="-0.7">80</tspan></text>
<text x="571.70" y="347.10" font-size="13.5" text-anchor="middle" font-weight="normal" ><tspan dy="0.7">−</tspan><tspan dy="-0.7">60</tspan></text>
<text x="594.60" y="347.10" font-size="13.5" text-anchor="middle" font-weight="normal" ><tspan dy="0.7">−</tspan><tspan dy="-0.7">40</tspan></text>
<text x="617.50" y="347.10" font-size="13.5" text-anchor="middle" font-weight="normal" ><tspan dy="0.7">−</tspan><tspan dy="-0.7">20</tspan></text>
<text x="639.50" y="347.10" font-size="13.5" text-anchor="middle" font-weight="normal" >0</text>
<text x="662.80" y="347.10" font-size="13.5" text-anchor="middle" font-weight="normal" >20</text>
<text x="519.40" y="335.10" font-size="13.5" text-anchor="end" font-weight="normal" >0</text>
<text x="519.40" y="307.06" font-size="13.5" text-anchor="end" font-weight="normal" >0.2</text>
<text x="519.40" y="279.02" font-size="13.5" text-anchor="end" font-weight="normal" >0.4</text>
<text x="519.40" y="250.98" font-size="13.5" text-anchor="end" font-weight="normal" >0.6</text>
<text x="519.40" y="222.94" font-size="13.5" text-anchor="end" font-weight="normal" >0.8</text>
<text x="519.40" y="194.90" font-size="13.5" text-anchor="end" font-weight="normal" >1.0</text>
<polyline points="524.40,375.40 524.40,515.90 661.80,515.90" fill="none" stroke="#111" stroke-width="1.7" stroke-linejoin="round" stroke-linecap="butt"/>
<line x1="547.30" y1="515.90" x2="547.30" y2="510.90" stroke="#333" stroke-width="1.1" />
<line x1="570.20" y1="515.90" x2="570.20" y2="510.90" stroke="#333" stroke-width="1.1" />
<line x1="593.10" y1="515.90" x2="593.10" y2="510.90" stroke="#333" stroke-width="1.1" />
<line x1="616.00" y1="515.90" x2="616.00" y2="510.90" stroke="#333" stroke-width="1.1" />
<line x1="638.90" y1="515.90" x2="638.90" y2="510.90" stroke="#333" stroke-width="1.1" />
<line x1="661.80" y1="515.90" x2="661.80" y2="510.90" stroke="#333" stroke-width="1.1" />
<line x1="524.40" y1="480.77" x2="529.40" y2="480.77" stroke="#333" stroke-width="1.1" />
<line x1="524.40" y1="445.65" x2="529.40" y2="445.65" stroke="#333" stroke-width="1.1" />
<line x1="524.40" y1="410.52" x2="529.40" y2="410.52" stroke="#333" stroke-width="1.1" />
<line x1="524.40" y1="375.40" x2="529.40" y2="375.40" stroke="#333" stroke-width="1.1" />
<text x="523.90" y="531.40" font-size="13.5" text-anchor="middle" font-weight="normal" ><tspan dy="0.7">−</tspan><tspan dy="-0.7">100</tspan></text>
<text x="549.30" y="531.40" font-size="13.5" text-anchor="middle" font-weight="normal" ><tspan dy="0.7">−</tspan><tspan dy="-0.7">80</tspan></text>
<text x="571.70" y="531.40" font-size="13.5" text-anchor="middle" font-weight="normal" ><tspan dy="0.7">−</tspan><tspan dy="-0.7">60</tspan></text>
<text x="594.60" y="531.40" font-size="13.5" text-anchor="middle" font-weight="normal" ><tspan dy="0.7">−</tspan><tspan dy="-0.7">40</tspan></text>
<text x="617.50" y="531.40" font-size="13.5" text-anchor="middle" font-weight="normal" ><tspan dy="0.7">−</tspan><tspan dy="-0.7">20</tspan></text>
<text x="639.50" y="531.40" font-size="13.5" text-anchor="middle" font-weight="normal" >0</text>
<text x="662.80" y="531.40" font-size="13.5" text-anchor="middle" font-weight="normal" >20</text>
<text x="519.40" y="519.40" font-size="13.5" text-anchor="end" font-weight="normal" >0</text>
<text x="519.40" y="484.27" font-size="13.5" text-anchor="end" font-weight="normal" >5</text>
<text x="519.40" y="449.15" font-size="13.5" text-anchor="end" font-weight="normal" >10</text>
<text x="519.40" y="414.02" font-size="13.5" text-anchor="end" font-weight="normal" >15</text>
<text x="519.40" y="378.90" font-size="13.5" text-anchor="end" font-weight="normal" >20</text>
<polyline points="524.50,131.94 539.73,131.94 554.96,131.94 570.19,131.94 585.42,131.94 600.65,131.94 615.88,130.91 631.11,130.91 646.34,130.91 661.57,130.91" fill="none" stroke="#e82020" stroke-width="1.3" stroke-linejoin="round" stroke-linecap="round" />
<rect x="519.90" y="127.34" width="9.2" height="9.2" fill="#e8302a" stroke="#300830" stroke-width="0.9"/>
<rect x="535.13" y="127.34" width="9.2" height="9.2" fill="#e8302a" stroke="#300830" stroke-width="0.9"/>
<rect x="550.36" y="127.34" width="9.2" height="9.2" fill="#e8302a" stroke="#300830" stroke-width="0.9"/>
<rect x="565.59" y="127.34" width="9.2" height="9.2" fill="#e8302a" stroke="#300830" stroke-width="0.9"/>
<rect x="580.82" y="127.34" width="9.2" height="9.2" fill="#e8302a" stroke="#300830" stroke-width="0.9"/>
<rect x="596.05" y="127.34" width="9.2" height="9.2" fill="#e8302a" stroke="#300830" stroke-width="0.9"/>
<rect x="611.28" y="126.31" width="9.2" height="9.2" fill="#e8302a" stroke="#300830" stroke-width="0.9"/>
<rect x="626.51" y="126.31" width="9.2" height="9.2" fill="#e8302a" stroke="#300830" stroke-width="0.9"/>
<rect x="641.74" y="126.31" width="9.2" height="9.2" fill="#e8302a" stroke="#300830" stroke-width="0.9"/>
<rect x="656.97" y="126.31" width="9.2" height="9.2" fill="#e8302a" stroke="#300830" stroke-width="0.9"/>
<polyline points="524.50,131.62 539.73,129.32 554.96,130.31 570.19,131.62 585.42,131.62 600.65,130.31 615.88,121.20 631.11,89.91 646.34,46.29 661.57,11.50" fill="none" stroke="#2040b0" stroke-width="1.6" stroke-linejoin="round" stroke-linecap="round" />
<circle cx="524.50" cy="131.62" r="4.7" fill="#2a45b0" stroke="#101020" stroke-width="0.9"/>
<circle cx="539.73" cy="129.32" r="4.7" fill="#2a45b0" stroke="#101020" stroke-width="0.9"/>
<circle cx="554.96" cy="130.31" r="4.7" fill="#2a45b0" stroke="#101020" stroke-width="0.9"/>
<circle cx="570.19" cy="131.62" r="4.7" fill="#2a45b0" stroke="#101020" stroke-width="0.9"/>
<circle cx="585.42" cy="131.62" r="4.7" fill="#2a45b0" stroke="#101020" stroke-width="0.9"/>
<circle cx="600.65" cy="130.31" r="4.7" fill="#2a45b0" stroke="#101020" stroke-width="0.9"/>
<circle cx="615.88" cy="121.20" r="4.7" fill="#2a45b0" stroke="#101020" stroke-width="0.9"/>
<circle cx="631.11" cy="89.91" r="4.7" fill="#2a45b0" stroke="#101020" stroke-width="0.9"/>
<circle cx="646.34" cy="46.29" r="4.7" fill="#2a45b0" stroke="#101020" stroke-width="0.9"/>
<circle cx="661.57" cy="11.50" r="4.7" fill="#2a45b0" stroke="#101020" stroke-width="0.9"/>
<text x="251.00" y="549.50" font-size="15.2" text-anchor="middle" font-weight="normal" >T (ms)</text>
<text x="592.00" y="183.70" font-size="15.2" text-anchor="middle" font-weight="normal" >V (mV)</text>
<text x="591.90" y="363.80" font-size="13.4" text-anchor="middle" font-weight="normal" >V (mV)</text>
<text x="591.90" y="546.80" font-size="13.4" text-anchor="middle" font-weight="normal" >V (mV)</text>
<text x="23.90" y="169.80" font-size="15.2" text-anchor="middle" font-weight="normal" transform="rotate(-90 23.90 169.80)" >I (nA)</text>
<text x="15.20" y="400.90" font-size="15.2" text-anchor="middle" font-weight="normal" transform="rotate(-90 15.20 400.90)" >g (nS)</text>
<text x="11.40" y="493.90" font-size="15.2" text-anchor="middle" font-weight="normal" transform="rotate(-90 11.40 493.90)" >V (mV)</text>
<text x="500.30" y="77.45" font-size="15.2" text-anchor="middle" font-weight="normal" transform="rotate(-90 500.30 77.45)" >I (nA)</text>
<text x="493.60" y="262.80" font-size="15.2" text-anchor="middle" font-weight="normal" transform="rotate(-90 493.60 262.80)" >state</text>
<text x="494.90" y="449.50" font-size="15.2" text-anchor="middle" font-weight="normal" transform="rotate(-90 494.90 449.50)" >tau (ms)</text>
<text x="6.00" y="13.30" font-size="16" text-anchor="start" font-weight="bold" >a</text>
<text x="4.50" y="371.00" font-size="16" text-anchor="start" font-weight="bold" >b</text>
<text x="2.00" y="464.30" font-size="16" text-anchor="start" font-weight="bold" >c</text>
<text x="492.00" y="14.60" font-size="16" text-anchor="start" font-weight="bold" >d</text>
<text x="487.00" y="196.50" font-size="16" text-anchor="start" font-weight="bold" >e</text>
<text x="487.00" y="382.00" font-size="16" text-anchor="start" font-weight="bold" >f</text>
</svg></body></html>
